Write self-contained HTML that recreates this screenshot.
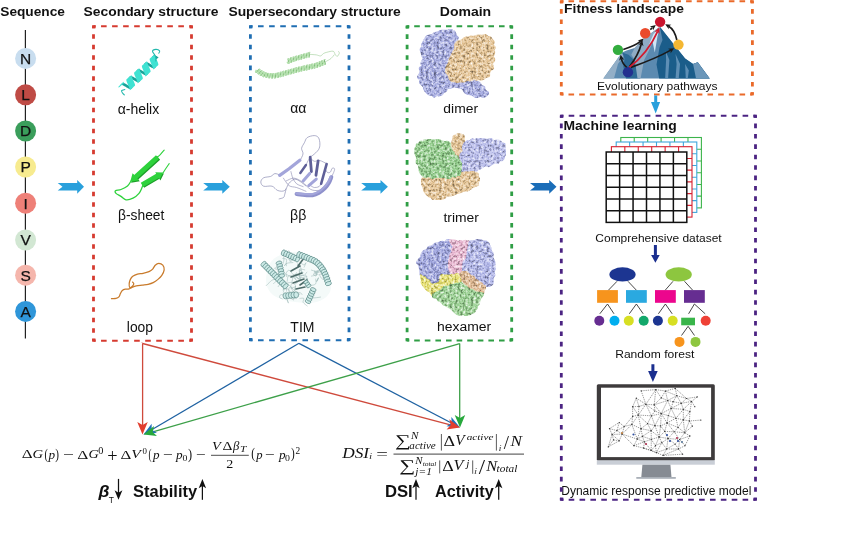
<!DOCTYPE html>
<html><head><meta charset="utf-8"><title>Protein structure to machine learning</title>
<style>html,body{margin:0;padding:0;background:#fff;}svg{display:block;}</style></head>
<body><svg width="865" height="533" viewBox="0 0 865 533">
<rect width="865" height="533" fill="#fff"/>
<text x="0.27" y="15.90" font-family="'Liberation Sans', Arial, sans-serif" font-size="13.70" font-style="normal" font-weight="bold" fill="#111">Sequence</text>
<text x="83.52" y="15.90" font-family="'Liberation Sans', Arial, sans-serif" font-size="13.70" font-style="normal" font-weight="bold" fill="#111" textLength="134.87" lengthAdjust="spacingAndGlyphs">Secondary structure</text>
<text x="228.42" y="15.90" font-family="'Liberation Sans', Arial, sans-serif" font-size="13.70" font-style="normal" font-weight="bold" fill="#111" textLength="172.42" lengthAdjust="spacingAndGlyphs">Supersecondary structure</text>
<text x="439.81" y="15.80" font-family="'Liberation Sans', Arial, sans-serif" font-size="13.70" font-style="normal" font-weight="bold" fill="#111" textLength="51.38" lengthAdjust="spacingAndGlyphs">Domain</text>
<text x="564.11" y="12.90" font-family="'Liberation Sans', Arial, sans-serif" font-size="13.60" font-style="normal" font-weight="bold" fill="#111" textLength="119.73" lengthAdjust="spacingAndGlyphs">Fitness landscape</text>
<text x="563.49" y="129.70" font-family="'Liberation Sans', Arial, sans-serif" font-size="13.40" font-style="normal" font-weight="bold" fill="#111" textLength="113.28" lengthAdjust="spacingAndGlyphs">Machine learning</text>
<text x="596.96" y="90.20" font-family="'Liberation Sans', Arial, sans-serif" font-size="11.60" font-style="normal" font-weight="normal" fill="#111" textLength="120.49" lengthAdjust="spacingAndGlyphs">Evolutionary pathways</text>
<text x="595.36" y="241.50" font-family="'Liberation Sans', Arial, sans-serif" font-size="11.60" font-style="normal" font-weight="normal" fill="#111" textLength="126.28" lengthAdjust="spacingAndGlyphs">Comprehensive dataset</text>
<text x="615.16" y="358.20" font-family="'Liberation Sans', Arial, sans-serif" font-size="11.60" font-style="normal" font-weight="normal" fill="#111" textLength="79.22" lengthAdjust="spacingAndGlyphs">Random forest</text>
<text x="561.29" y="495.00" font-family="'Liberation Sans', Arial, sans-serif" font-size="12.00" font-style="normal" font-weight="normal" fill="#111">Dynamic response predictive model</text>
<text x="117.65" y="113.62" font-family="'Liberation Sans', Arial, sans-serif" font-size="13.74" font-style="normal" font-weight="normal" fill="#111" textLength="41.55" lengthAdjust="spacingAndGlyphs">&#945;-helix</text>
<text x="118.01" y="219.98" font-family="'Liberation Sans', Arial, sans-serif" font-size="13.82" font-style="normal" font-weight="normal" fill="#111">&#946;-sheet</text>
<text x="126.80" y="331.91" font-family="'Liberation Sans', Arial, sans-serif" font-size="13.72" font-style="normal" font-weight="normal" fill="#111" textLength="26.27" lengthAdjust="spacingAndGlyphs">loop</text>
<text x="290.15" y="112.86" font-family="'Liberation Sans', Arial, sans-serif" font-size="14.64" font-style="normal" font-weight="normal" fill="#111" textLength="16.22" lengthAdjust="spacingAndGlyphs">&#945;&#945;</text>
<text x="290.08" y="219.91" font-family="'Liberation Sans', Arial, sans-serif" font-size="13.72" font-style="normal" font-weight="normal" fill="#111" textLength="16.27" lengthAdjust="spacingAndGlyphs">&#946;&#946;</text>
<text x="290.34" y="331.80" font-family="'Liberation Sans', Arial, sans-serif" font-size="14.01" font-style="normal" font-weight="normal" fill="#111">TIM</text>
<text x="443.36" y="112.58" font-family="'Liberation Sans', Arial, sans-serif" font-size="13.12" font-style="normal" font-weight="normal" fill="#111" textLength="34.71" lengthAdjust="spacingAndGlyphs">dimer</text>
<text x="443.44" y="221.67" font-family="'Liberation Sans', Arial, sans-serif" font-size="13.53" font-style="normal" font-weight="normal" fill="#111" textLength="35.41" lengthAdjust="spacingAndGlyphs">trimer</text>
<text x="437.00" y="331.48" font-family="'Liberation Sans', Arial, sans-serif" font-size="12.85" font-style="normal" font-weight="normal" fill="#111" textLength="54.18" lengthAdjust="spacingAndGlyphs">hexamer</text>
<line x1="93.5" y1="26.2" x2="191.5" y2="26.2" stroke="#d63b30" stroke-width="2.0" stroke-dasharray="2.1 5.44 5.6 5.44 5.6 5.44 5.6 5.44 5.6 5.44 5.6 5.44 5.6 5.44 5.6 5.44 5.6 5.44 2.1 0"/>
<line x1="93.5" y1="340.7" x2="191.5" y2="340.7" stroke="#d63b30" stroke-width="2.0" stroke-dasharray="2.1 5.44 5.6 5.44 5.6 5.44 5.6 5.44 5.6 5.44 5.6 5.44 5.6 5.44 5.6 5.44 5.6 5.44 2.1 0"/>
<line x1="93.5" y1="26.2" x2="93.5" y2="340.7" stroke="#d63b30" stroke-width="2.8" stroke-dasharray="2.1 5.9 4.6 5.9 4.6 5.9 4.6 5.9 4.6 5.9 4.6 5.9 4.6 5.9 4.6 5.9 4.6 5.9 4.6 5.9 4.6 5.9 4.6 5.9 4.6 5.9 4.6 5.9 4.6 5.9 4.6 5.9 4.6 5.9 4.6 5.9 4.6 5.9 4.6 5.9 4.6 5.9 4.6 5.9 4.6 5.9 4.6 5.9 4.6 5.9 4.6 5.9 4.6 5.9 4.6 5.9 4.6 5.9 4.6 5.9 2.1 0"/>
<line x1="191.5" y1="26.2" x2="191.5" y2="340.7" stroke="#d63b30" stroke-width="2.8" stroke-dasharray="2.1 5.9 4.6 5.9 4.6 5.9 4.6 5.9 4.6 5.9 4.6 5.9 4.6 5.9 4.6 5.9 4.6 5.9 4.6 5.9 4.6 5.9 4.6 5.9 4.6 5.9 4.6 5.9 4.6 5.9 4.6 5.9 4.6 5.9 4.6 5.9 4.6 5.9 4.6 5.9 4.6 5.9 4.6 5.9 4.6 5.9 4.6 5.9 4.6 5.9 4.6 5.9 4.6 5.9 4.6 5.9 4.6 5.9 4.6 5.9 2.1 0"/>
<rect x="92.1" y="25.2" width="3.5" height="3.1" fill="#d63b30"/>
<rect x="189.4" y="25.2" width="3.5" height="3.1" fill="#d63b30"/>
<rect x="92.1" y="338.6" width="3.5" height="3.1" fill="#d63b30"/>
<rect x="189.4" y="338.6" width="3.5" height="3.1" fill="#d63b30"/>
<line x1="250.4" y1="26.2" x2="349" y2="26.2" stroke="#1f6eb3" stroke-width="2.0" stroke-dasharray="2.1 5.51 5.6 5.51 5.6 5.51 5.6 5.51 5.6 5.51 5.6 5.51 5.6 5.51 5.6 5.51 5.6 5.51 2.1 0"/>
<line x1="250.4" y1="340.2" x2="349" y2="340.2" stroke="#1f6eb3" stroke-width="2.0" stroke-dasharray="2.1 5.51 5.6 5.51 5.6 5.51 5.6 5.51 5.6 5.51 5.6 5.51 5.6 5.51 5.6 5.51 5.6 5.51 2.1 0"/>
<line x1="250.4" y1="26.2" x2="250.4" y2="340.2" stroke="#1f6eb3" stroke-width="2.8" stroke-dasharray="2.1 5.88 4.6 5.88 4.6 5.88 4.6 5.88 4.6 5.88 4.6 5.88 4.6 5.88 4.6 5.88 4.6 5.88 4.6 5.88 4.6 5.88 4.6 5.88 4.6 5.88 4.6 5.88 4.6 5.88 4.6 5.88 4.6 5.88 4.6 5.88 4.6 5.88 4.6 5.88 4.6 5.88 4.6 5.88 4.6 5.88 4.6 5.88 4.6 5.88 4.6 5.88 4.6 5.88 4.6 5.88 4.6 5.88 4.6 5.88 2.1 0"/>
<line x1="349" y1="26.2" x2="349" y2="340.2" stroke="#1f6eb3" stroke-width="2.8" stroke-dasharray="2.1 5.88 4.6 5.88 4.6 5.88 4.6 5.88 4.6 5.88 4.6 5.88 4.6 5.88 4.6 5.88 4.6 5.88 4.6 5.88 4.6 5.88 4.6 5.88 4.6 5.88 4.6 5.88 4.6 5.88 4.6 5.88 4.6 5.88 4.6 5.88 4.6 5.88 4.6 5.88 4.6 5.88 4.6 5.88 4.6 5.88 4.6 5.88 4.6 5.88 4.6 5.88 4.6 5.88 4.6 5.88 4.6 5.88 4.6 5.88 2.1 0"/>
<rect x="249" y="25.2" width="3.5" height="3.1" fill="#1f6eb3"/>
<rect x="346.9" y="25.2" width="3.5" height="3.1" fill="#1f6eb3"/>
<rect x="249" y="338.1" width="3.5" height="3.1" fill="#1f6eb3"/>
<rect x="346.9" y="338.1" width="3.5" height="3.1" fill="#1f6eb3"/>
<line x1="407.1" y1="26.3" x2="511.7" y2="26.3" stroke="#2f9e45" stroke-width="2.0" stroke-dasharray="2.1 5 5.6 5 5.6 5 5.6 5 5.6 5 5.6 5 5.6 5 5.6 5 5.6 5 5.6 5 2.1 0"/>
<line x1="407.1" y1="340.4" x2="511.7" y2="340.4" stroke="#2f9e45" stroke-width="2.0" stroke-dasharray="2.1 5 5.6 5 5.6 5 5.6 5 5.6 5 5.6 5 5.6 5 5.6 5 5.6 5 5.6 5 2.1 0"/>
<line x1="407.1" y1="26.3" x2="407.1" y2="340.4" stroke="#2f9e45" stroke-width="2.8" stroke-dasharray="2.1 5.88 4.6 5.88 4.6 5.88 4.6 5.88 4.6 5.88 4.6 5.88 4.6 5.88 4.6 5.88 4.6 5.88 4.6 5.88 4.6 5.88 4.6 5.88 4.6 5.88 4.6 5.88 4.6 5.88 4.6 5.88 4.6 5.88 4.6 5.88 4.6 5.88 4.6 5.88 4.6 5.88 4.6 5.88 4.6 5.88 4.6 5.88 4.6 5.88 4.6 5.88 4.6 5.88 4.6 5.88 4.6 5.88 4.6 5.88 2.1 0"/>
<line x1="511.7" y1="26.3" x2="511.7" y2="340.4" stroke="#2f9e45" stroke-width="2.8" stroke-dasharray="2.1 5.88 4.6 5.88 4.6 5.88 4.6 5.88 4.6 5.88 4.6 5.88 4.6 5.88 4.6 5.88 4.6 5.88 4.6 5.88 4.6 5.88 4.6 5.88 4.6 5.88 4.6 5.88 4.6 5.88 4.6 5.88 4.6 5.88 4.6 5.88 4.6 5.88 4.6 5.88 4.6 5.88 4.6 5.88 4.6 5.88 4.6 5.88 4.6 5.88 4.6 5.88 4.6 5.88 4.6 5.88 4.6 5.88 4.6 5.88 2.1 0"/>
<rect x="405.7" y="25.3" width="3.5" height="3.1" fill="#2f9e45"/>
<rect x="509.6" y="25.3" width="3.5" height="3.1" fill="#2f9e45"/>
<rect x="405.7" y="338.3" width="3.5" height="3.1" fill="#2f9e45"/>
<rect x="509.6" y="338.3" width="3.5" height="3.1" fill="#2f9e45"/>
<line x1="561.3" y1="1.2" x2="752.4" y2="1.2" stroke="#ea6a2a" stroke-width="2.0" stroke-dasharray="2.1 5.09 5.6 5.09 5.6 5.09 5.6 5.09 5.6 5.09 5.6 5.09 5.6 5.09 5.6 5.09 5.6 5.09 5.6 5.09 5.6 5.09 5.6 5.09 5.6 5.09 5.6 5.09 5.6 5.09 5.6 5.09 5.6 5.09 5.6 5.09 2.1 0"/>
<line x1="561.3" y1="94.4" x2="752.4" y2="94.4" stroke="#ea6a2a" stroke-width="2.0" stroke-dasharray="2.1 5.09 5.6 5.09 5.6 5.09 5.6 5.09 5.6 5.09 5.6 5.09 5.6 5.09 5.6 5.09 5.6 5.09 5.6 5.09 5.6 5.09 5.6 5.09 5.6 5.09 5.6 5.09 5.6 5.09 5.6 5.09 5.6 5.09 5.6 5.09 2.1 0"/>
<line x1="561.3" y1="1.2" x2="561.3" y2="94.4" stroke="#ea6a2a" stroke-width="2.8" stroke-dasharray="2.1 5.8 4.6 5.8 4.6 5.8 4.6 5.8 4.6 5.8 4.6 5.8 4.6 5.8 4.6 5.8 4.6 5.8 2.1 0"/>
<line x1="752.4" y1="1.2" x2="752.4" y2="94.4" stroke="#ea6a2a" stroke-width="2.8" stroke-dasharray="2.1 5.8 4.6 5.8 4.6 5.8 4.6 5.8 4.6 5.8 4.6 5.8 4.6 5.8 4.6 5.8 4.6 5.8 2.1 0"/>
<rect x="559.9" y="0.2" width="3.5" height="3.1" fill="#ea6a2a"/>
<rect x="750.3" y="0.2" width="3.5" height="3.1" fill="#ea6a2a"/>
<rect x="559.9" y="92.3" width="3.5" height="3.1" fill="#ea6a2a"/>
<rect x="750.3" y="92.3" width="3.5" height="3.1" fill="#ea6a2a"/>
<line x1="561.3" y1="115.7" x2="755.5" y2="115.7" stroke="#4b2382" stroke-width="2.0" stroke-dasharray="2.1 5.27 5.6 5.27 5.6 5.27 5.6 5.27 5.6 5.27 5.6 5.27 5.6 5.27 5.6 5.27 5.6 5.27 5.6 5.27 5.6 5.27 5.6 5.27 5.6 5.27 5.6 5.27 5.6 5.27 5.6 5.27 5.6 5.27 5.6 5.27 2.1 0"/>
<line x1="561.3" y1="499.8" x2="755.5" y2="499.8" stroke="#4b2382" stroke-width="2.0" stroke-dasharray="2.1 5.27 5.6 5.27 5.6 5.27 5.6 5.27 5.6 5.27 5.6 5.27 5.6 5.27 5.6 5.27 5.6 5.27 5.6 5.27 5.6 5.27 5.6 5.27 5.6 5.27 5.6 5.27 5.6 5.27 5.6 5.27 5.6 5.27 5.6 5.27 2.1 0"/>
<line x1="561.3" y1="115.7" x2="561.3" y2="499.8" stroke="#4b2382" stroke-width="2.8" stroke-dasharray="2.1 5.79 4.6 5.79 4.6 5.79 4.6 5.79 4.6 5.79 4.6 5.79 4.6 5.79 4.6 5.79 4.6 5.79 4.6 5.79 4.6 5.79 4.6 5.79 4.6 5.79 4.6 5.79 4.6 5.79 4.6 5.79 4.6 5.79 4.6 5.79 4.6 5.79 4.6 5.79 4.6 5.79 4.6 5.79 4.6 5.79 4.6 5.79 4.6 5.79 4.6 5.79 4.6 5.79 4.6 5.79 4.6 5.79 4.6 5.79 4.6 5.79 4.6 5.79 4.6 5.79 4.6 5.79 4.6 5.79 4.6 5.79 4.6 5.79 2.1 0"/>
<line x1="755.5" y1="115.7" x2="755.5" y2="499.8" stroke="#4b2382" stroke-width="2.8" stroke-dasharray="2.1 5.79 4.6 5.79 4.6 5.79 4.6 5.79 4.6 5.79 4.6 5.79 4.6 5.79 4.6 5.79 4.6 5.79 4.6 5.79 4.6 5.79 4.6 5.79 4.6 5.79 4.6 5.79 4.6 5.79 4.6 5.79 4.6 5.79 4.6 5.79 4.6 5.79 4.6 5.79 4.6 5.79 4.6 5.79 4.6 5.79 4.6 5.79 4.6 5.79 4.6 5.79 4.6 5.79 4.6 5.79 4.6 5.79 4.6 5.79 4.6 5.79 4.6 5.79 4.6 5.79 4.6 5.79 4.6 5.79 4.6 5.79 4.6 5.79 2.1 0"/>
<rect x="559.9" y="114.7" width="3.5" height="3.1" fill="#4b2382"/>
<rect x="753.4" y="114.7" width="3.5" height="3.1" fill="#4b2382"/>
<rect x="559.9" y="497.7" width="3.5" height="3.1" fill="#4b2382"/>
<rect x="753.4" y="497.7" width="3.5" height="3.1" fill="#4b2382"/>
<line x1="25.4" y1="30" x2="25.4" y2="338.4" stroke="#222" stroke-width="1.2"/>
<circle cx="25.6" cy="58.4" r="10.5" fill="#c8ddef"/>
<text x="25.6" y="63.8" font-family="'Liberation Sans', Arial, sans-serif" font-size="15.5" font-weight="normal" font-style="normal" text-anchor="middle" fill="#111" stroke="#111" stroke-width="0.25">N</text>
<circle cx="25.6" cy="94.8" r="10.5" fill="#bf4b45"/>
<text x="25.6" y="100.2" font-family="'Liberation Sans', Arial, sans-serif" font-size="15.5" font-weight="normal" font-style="normal" text-anchor="middle" fill="#111" stroke="#111" stroke-width="0.25">L</text>
<circle cx="25.6" cy="131" r="10.5" fill="#3a9e5b"/>
<text x="25.6" y="136.4" font-family="'Liberation Sans', Arial, sans-serif" font-size="15.5" font-weight="normal" font-style="normal" text-anchor="middle" fill="#111" stroke="#111" stroke-width="0.25">D</text>
<circle cx="25.6" cy="167" r="10.5" fill="#f7eb8f"/>
<text x="25.6" y="172.4" font-family="'Liberation Sans', Arial, sans-serif" font-size="15.5" font-weight="normal" font-style="normal" text-anchor="middle" fill="#111" stroke="#111" stroke-width="0.25">P</text>
<circle cx="25.6" cy="203.2" r="10.5" fill="#ee8078"/>
<text x="25.6" y="208.6" font-family="'Liberation Sans', Arial, sans-serif" font-size="15.5" font-weight="normal" font-style="normal" text-anchor="middle" fill="#111" stroke="#111" stroke-width="0.25">I</text>
<circle cx="25.6" cy="240" r="10.5" fill="#d2e7d3"/>
<text x="25.6" y="245.4" font-family="'Liberation Sans', Arial, sans-serif" font-size="15.5" font-weight="normal" font-style="normal" text-anchor="middle" fill="#111" stroke="#111" stroke-width="0.25">V</text>
<circle cx="25.6" cy="275.2" r="10.5" fill="#f5b6ac"/>
<text x="25.6" y="280.6" font-family="'Liberation Sans', Arial, sans-serif" font-size="15.5" font-weight="normal" font-style="normal" text-anchor="middle" fill="#111" stroke="#111" stroke-width="0.25">S</text>
<circle cx="25.6" cy="311.4" r="10.5" fill="#2f96d9"/>
<text x="25.6" y="316.8" font-family="'Liberation Sans', Arial, sans-serif" font-size="15.5" font-weight="normal" font-style="normal" text-anchor="middle" fill="#111" stroke="#111" stroke-width="0.25">A</text>
<polygon points="57.7,183.1 77.2,183.1 77.2,179.9 84,186.8 77.2,193.8 77.2,190.5 57.7,190.5 62.5,186.8" fill="#29a0dc"/>
<polygon points="203.2,183.1 222.3,183.1 222.3,179.9 229.8,186.8 222.3,193.8 222.3,190.5 203.2,190.5 208,186.8" fill="#29a0dc"/>
<polygon points="361.2,183.1 380.5,183.1 380.5,179.9 387.9,186.8 380.5,193.8 380.5,190.5 361.2,190.5 366,186.8" fill="#29a0dc"/>
<polygon points="530,183.1 549.2,183.1 549.2,179.9 556.5,186.8 549.2,193.8 549.2,190.5 530,190.5 534.8,186.8" fill="#1a6db8"/>
<polyline points="142,342.5 142.6,343.5" stroke="#cf4a3c" fill="none"/>
<line x1="142.6" y1="343.5" x2="452.27" y2="425.45" stroke="#cf4a3c" stroke-width="1.3"/>
<line x1="299" y1="343.3" x2="452.91" y2="423.79" stroke="#1f62a2" stroke-width="1.3"/>
<line x1="459.7" y1="343.6" x2="151.19" y2="432.29" stroke="#3da049" stroke-width="1.3"/>
<line x1="299" y1="343.3" x2="150.4" y2="430.45" stroke="#1f62a2" stroke-width="1.3"/>
<line x1="142.6" y1="343.5" x2="142.6" y2="426.5" stroke="#cf4a3c" stroke-width="1.3"/>
<line x1="459.7" y1="343.6" x2="459.7" y2="419.5" stroke="#3da049" stroke-width="1.3"/>
<polygon points="460,427.5 446.49,426.36 451.58,423.1 451.36,417.05" fill="#2271bb"/>
<polygon points="460,427.5 446.57,429.38 450.82,425.07 449.26,419.23" fill="#e23d2e"/>
<polygon points="460,427.5 454.71,415.02 459.97,418 465.21,414.98" fill="#27a83c"/>
<polygon points="142.5,434.5 137.26,421.99 142.51,425 147.76,422.01" fill="#e23d2e"/>
<polygon points="143.5,434.5 151.63,423.65 151.69,429.69 156.94,432.7" fill="#2271bb"/>
<polygon points="143.5,434.5 154.06,426 152.63,431.88 156.96,436.09" fill="#27a83c"/>
<text x="21.67" y="458.30" font-family="'Liberation Serif', serif" font-size="13.08" font-style="normal" font-weight="normal" fill="#111" textLength="10.87" lengthAdjust="spacingAndGlyphs">&#916;</text>
<text x="32.49" y="458.18" font-family="'Liberation Serif', serif" font-size="12.72" font-style="italic" font-weight="normal" fill="#111" textLength="10.59" lengthAdjust="spacingAndGlyphs">G</text>
<text x="44.42" y="458.76" font-family="'Liberation Serif', serif" font-size="13.95" font-style="normal" font-weight="normal" fill="#111" textLength="3.46" lengthAdjust="spacingAndGlyphs">(</text>
<text x="48.44" y="458.63" font-family="'Liberation Serif', serif" font-size="12.55" font-style="italic" font-weight="normal" fill="#111" textLength="6.63" lengthAdjust="spacingAndGlyphs">p</text>
<text x="55.19" y="458.76" font-family="'Liberation Serif', serif" font-size="13.95" font-style="normal" font-weight="normal" fill="#111" textLength="3.73" lengthAdjust="spacingAndGlyphs">)</text>
<text x="62.92" y="459.04" font-family="'Liberation Serif', serif" font-size="13.50" font-style="normal" font-weight="normal" fill="#111" textLength="10.97" lengthAdjust="spacingAndGlyphs">&#8722;</text>
<text x="77.36" y="458.60" font-family="'Liberation Serif', serif" font-size="13.39" font-style="normal" font-weight="normal" fill="#111" textLength="11.10" lengthAdjust="spacingAndGlyphs">&#916;</text>
<text x="88.41" y="458.48" font-family="'Liberation Serif', serif" font-size="13.02" font-style="italic" font-weight="normal" fill="#111" textLength="10.25" lengthAdjust="spacingAndGlyphs">G</text>
<text x="98.37" y="453.50" font-family="'Liberation Serif', serif" font-size="9.65" font-style="normal" font-weight="normal" fill="#111" textLength="5.16" lengthAdjust="spacingAndGlyphs">0</text>
<text x="107.35" y="461.64" font-family="'Liberation Serif', serif" font-size="19.01" font-style="normal" font-weight="normal" fill="#111" textLength="10.33" lengthAdjust="spacingAndGlyphs">+</text>
<text x="120.58" y="458.60" font-family="'Liberation Serif', serif" font-size="13.39" font-style="normal" font-weight="normal" fill="#111" textLength="10.82" lengthAdjust="spacingAndGlyphs">&#916;</text>
<text x="131.33" y="458.36" font-family="'Liberation Serif', serif" font-size="13.20" font-style="italic" font-weight="normal" fill="#111" textLength="9.52" lengthAdjust="spacingAndGlyphs">V</text>
<text x="142.53" y="453.50" font-family="'Liberation Serif', serif" font-size="7.51" font-style="normal" font-weight="normal" fill="#111" textLength="4.44" lengthAdjust="spacingAndGlyphs">0</text>
<text x="148.47" y="458.76" font-family="'Liberation Serif', serif" font-size="13.95" font-style="normal" font-weight="normal" fill="#111" textLength="3.06" lengthAdjust="spacingAndGlyphs">(</text>
<text x="153.03" y="458.78" font-family="'Liberation Serif', serif" font-size="11.82" font-style="italic" font-weight="normal" fill="#111" textLength="6.58" lengthAdjust="spacingAndGlyphs">p</text>
<text x="162.93" y="459.04" font-family="'Liberation Serif', serif" font-size="13.50" font-style="normal" font-weight="normal" fill="#111" textLength="9.87" lengthAdjust="spacingAndGlyphs">&#8722;</text>
<text x="176.14" y="458.78" font-family="'Liberation Serif', serif" font-size="11.82" font-style="italic" font-weight="normal" fill="#111" textLength="6.63" lengthAdjust="spacingAndGlyphs">p</text>
<text x="182.49" y="460.80" font-family="'Liberation Serif', serif" font-size="8.43" font-style="normal" font-weight="normal" fill="#111" textLength="4.92" lengthAdjust="spacingAndGlyphs">0</text>
<text x="188.06" y="458.76" font-family="'Liberation Serif', serif" font-size="13.95" font-style="normal" font-weight="normal" fill="#111" textLength="4.11" lengthAdjust="spacingAndGlyphs">)</text>
<text x="196.14" y="459.44" font-family="'Liberation Serif', serif" font-size="13.50" font-style="normal" font-weight="normal" fill="#111" textLength="9.75" lengthAdjust="spacingAndGlyphs">&#8722;</text>
<text x="211.90" y="449.56" font-family="'Liberation Serif', serif" font-size="13.05" font-style="italic" font-weight="normal" fill="#111" textLength="8.81" lengthAdjust="spacingAndGlyphs">V</text>
<text x="222.53" y="449.80" font-family="'Liberation Serif', serif" font-size="13.23" font-style="normal" font-weight="normal" fill="#111" textLength="9.91" lengthAdjust="spacingAndGlyphs">&#916;</text>
<text x="233.04" y="449.86" font-family="'Liberation Serif', serif" font-size="12.87" font-style="italic" font-weight="normal" fill="#111" textLength="6.34" lengthAdjust="spacingAndGlyphs">&#946;</text>
<text x="240.01" y="451.50" font-family="'Liberation Serif', serif" font-size="9.04" font-style="italic" font-weight="normal" fill="#111" textLength="6.37" lengthAdjust="spacingAndGlyphs">T</text>
<text x="226.25" y="467.80" font-family="'Liberation Serif', serif" font-size="12.63" font-style="normal" font-weight="normal" fill="#111" textLength="7.03" lengthAdjust="spacingAndGlyphs">2</text>
<text x="251.26" y="458.46" font-family="'Liberation Serif', serif" font-size="13.95" font-style="normal" font-weight="normal" fill="#111" textLength="3.86" lengthAdjust="spacingAndGlyphs">(</text>
<text x="256.31" y="458.72" font-family="'Liberation Serif', serif" font-size="12.11" font-style="italic" font-weight="normal" fill="#111" textLength="6.35" lengthAdjust="spacingAndGlyphs">p</text>
<text x="265.14" y="459.44" font-family="'Liberation Serif', serif" font-size="13.50" font-style="normal" font-weight="normal" fill="#111" textLength="9.75" lengthAdjust="spacingAndGlyphs">&#8722;</text>
<text x="278.94" y="458.72" font-family="'Liberation Serif', serif" font-size="12.11" font-style="italic" font-weight="normal" fill="#111" textLength="6.63" lengthAdjust="spacingAndGlyphs">p</text>
<text x="285.09" y="461.00" font-family="'Liberation Serif', serif" font-size="7.35" font-style="normal" font-weight="normal" fill="#111" textLength="4.92" lengthAdjust="spacingAndGlyphs">0</text>
<text x="290.89" y="458.46" font-family="'Liberation Serif', serif" font-size="13.95" font-style="normal" font-weight="normal" fill="#111" textLength="3.73" lengthAdjust="spacingAndGlyphs">)</text>
<text x="295.61" y="453.70" font-family="'Liberation Serif', serif" font-size="9.34" font-style="normal" font-weight="normal" fill="#111">2</text>
<text x="342.26" y="457.66" font-family="'Liberation Serif', serif" font-size="14.65" font-style="italic" font-weight="normal" fill="#111" textLength="26.89" lengthAdjust="spacingAndGlyphs">DSI</text>
<text x="369.07" y="459.40" font-family="'Liberation Serif', serif" font-size="9.19" font-style="italic" font-weight="normal" fill="#333" textLength="3.15" lengthAdjust="spacingAndGlyphs">i</text>
<text x="376.29" y="458.77" font-family="'Liberation Serif', serif" font-size="14.00" font-style="normal" font-weight="normal" fill="#111" textLength="11.66" lengthAdjust="spacingAndGlyphs">=</text>
<text x="394.67" y="445.82" font-family="'Liberation Serif', serif" font-size="16.49" font-style="normal" font-weight="normal" fill="#111" textLength="15.73" lengthAdjust="spacingAndGlyphs">&#8721;</text>
<text x="411.00" y="438.50" font-family="'Liberation Serif', serif" font-size="9.80" font-style="italic" font-weight="normal" fill="#111" textLength="7.44" lengthAdjust="spacingAndGlyphs">N</text>
<text x="409.39" y="449.47" font-family="'Liberation Serif', serif" font-size="9.45" font-style="italic" font-weight="normal" fill="#111" textLength="26.40" lengthAdjust="spacingAndGlyphs">active</text>
<text x="443.43" y="445.50" font-family="'Liberation Serif', serif" font-size="14.45" font-style="normal" font-weight="normal" fill="#111" textLength="11.61" lengthAdjust="spacingAndGlyphs">&#916;</text>
<text x="455.35" y="445.24" font-family="'Liberation Serif', serif" font-size="14.25" font-style="italic" font-weight="normal" fill="#111" textLength="9.33" lengthAdjust="spacingAndGlyphs">V</text>
<text x="466.69" y="440.27" font-family="'Liberation Serif', serif" font-size="9.00" font-style="italic" font-weight="normal" fill="#111" textLength="26.70" lengthAdjust="spacingAndGlyphs">active</text>
<text x="498.60" y="450.60" font-family="'Liberation Serif', serif" font-size="8.84" font-style="italic" font-weight="normal" fill="#444" textLength="3.11" lengthAdjust="spacingAndGlyphs">i</text>
<text x="503.80" y="448.62" font-family="'Liberation Serif', serif" font-size="19.35" font-style="normal" font-weight="normal" fill="#111" textLength="5.20" lengthAdjust="spacingAndGlyphs">/</text>
<text x="510.46" y="445.90" font-family="'Liberation Serif', serif" font-size="14.91" font-style="italic" font-weight="normal" fill="#111" textLength="11.45" lengthAdjust="spacingAndGlyphs">N</text>
<text x="399.05" y="470.69" font-family="'Liberation Serif', serif" font-size="16.14" font-style="normal" font-weight="normal" fill="#111" textLength="15.97" lengthAdjust="spacingAndGlyphs">&#8721;</text>
<text x="415.30" y="463.60" font-family="'Liberation Serif', serif" font-size="9.80" font-style="italic" font-weight="normal" fill="#111" textLength="7.25" lengthAdjust="spacingAndGlyphs">N</text>
<text x="422.69" y="465.50" font-family="'Liberation Serif', serif" font-size="6.35" font-style="italic" font-weight="normal" fill="#111" textLength="13.77" lengthAdjust="spacingAndGlyphs">total</text>
<text x="415.36" y="474.92" font-family="'Liberation Serif', serif" font-size="9.99" font-style="italic" font-weight="normal" fill="#111" textLength="16.44" lengthAdjust="spacingAndGlyphs">j=1</text>
<text x="442.24" y="470.60" font-family="'Liberation Serif', serif" font-size="14.60" font-style="normal" font-weight="normal" fill="#111" textLength="11.50" lengthAdjust="spacingAndGlyphs">&#916;</text>
<text x="453.40" y="470.33" font-family="'Liberation Serif', serif" font-size="14.40" font-style="italic" font-weight="normal" fill="#111" textLength="9.90" lengthAdjust="spacingAndGlyphs">V</text>
<text x="466.36" y="466.62" font-family="'Liberation Serif', serif" font-size="9.99" font-style="italic" font-weight="normal" fill="#111" textLength="3.16" lengthAdjust="spacingAndGlyphs">j</text>
<text x="474.10" y="474.40" font-family="'Liberation Serif', serif" font-size="8.99" font-style="italic" font-weight="normal" fill="#444" textLength="3.11" lengthAdjust="spacingAndGlyphs">i</text>
<text x="478.80" y="473.61" font-family="'Liberation Serif', serif" font-size="20.55" font-style="normal" font-weight="normal" fill="#111" textLength="6.30" lengthAdjust="spacingAndGlyphs">/</text>
<text x="486.25" y="470.60" font-family="'Liberation Serif', serif" font-size="14.45" font-style="italic" font-weight="normal" fill="#111" textLength="10.90" lengthAdjust="spacingAndGlyphs">N</text>
<text x="496.63" y="472.30" font-family="'Liberation Serif', serif" font-size="9.50" font-style="italic" font-weight="normal" fill="#111" textLength="20.69" lengthAdjust="spacingAndGlyphs">total</text>
<text x="98.50" y="496.73" font-family="'Liberation Sans', Arial, sans-serif" font-size="15.99" font-style="italic" font-weight="bold" fill="#111" textLength="10.96" lengthAdjust="spacingAndGlyphs">&#946;</text>
<text x="108.86" y="502.60" font-family="'Liberation Sans', Arial, sans-serif" font-size="9.36" font-style="normal" font-weight="normal" fill="#111" textLength="5.17" lengthAdjust="spacingAndGlyphs">T</text>
<text x="133.09" y="496.80" font-family="'Liberation Sans', Arial, sans-serif" font-size="16.30" font-style="normal" font-weight="bold" fill="#111" textLength="64.05" lengthAdjust="spacingAndGlyphs">Stability</text>
<text x="384.91" y="496.62" font-family="'Liberation Sans', Arial, sans-serif" font-size="15.83" font-style="normal" font-weight="bold" fill="#111" textLength="27.78" lengthAdjust="spacingAndGlyphs">DSI</text>
<text x="435.09" y="496.80" font-family="'Liberation Sans', Arial, sans-serif" font-size="16.00" font-style="normal" font-weight="bold" fill="#111" textLength="58.58" lengthAdjust="spacingAndGlyphs">Activity</text>
<line x1="211" y1="455.3" x2="248.8" y2="455.3" stroke="#111" stroke-width="0.75"/>
<line x1="393.5" y1="454.1" x2="524" y2="454.1" stroke="#111" stroke-width="0.8"/>
<line x1="441.4" y1="434.0" x2="441.4" y2="450.6" stroke="#333" stroke-width="0.8"/>
<line x1="496.4" y1="434.0" x2="496.4" y2="450.6" stroke="#333" stroke-width="0.8"/>
<line x1="439.7" y1="460.4" x2="439.7" y2="473.4" stroke="#333" stroke-width="0.8"/>
<line x1="472.7" y1="460.4" x2="472.7" y2="473.8" stroke="#333" stroke-width="0.8"/>
<line x1="118.5" y1="478.9" x2="118.5" y2="495.8" stroke="#111" stroke-width="1.25"/>
<polygon points="118.5,499.8 122.4,490.3 118.5,492.8 114.6,490.3" fill="#111"/>
<line x1="202.4" y1="482.9" x2="202.4" y2="499.8" stroke="#111" stroke-width="1.25"/>
<polygon points="202.4,478.9 206.1,488.2 202.4,485.9 198.7,488.2" fill="#111"/>
<line x1="416" y1="482.9" x2="416" y2="499.8" stroke="#111" stroke-width="1.25"/>
<polygon points="416,478.9 419.7,488.2 416,485.9 412.3,488.2" fill="#111"/>
<line x1="498.7" y1="482.9" x2="498.7" y2="499.8" stroke="#111" stroke-width="1.25"/>
<polygon points="498.7,478.9 502.4,488.2 498.7,485.9 495,488.2" fill="#111"/>
<polygon points="603.32,78.51 621.94,52.58 626.6,50.59 634.57,47.93 643.88,38.62 659.84,26.65 669.15,38.62 674.47,45.27 685.11,58.56 693.09,63.88 697.74,62.29 709.71,78.51" fill="#5b8ab0"/>
<polygon points="603.32,78.51 621.94,52.58 624.6,54.84 617.95,63.88 613.96,78.51" fill="#93afc7"/>
<polygon points="621.94,52.58 628.59,54.84 633.91,59.89 639.89,78.51 625.93,78.51 623.27,66.54 624.6,58.56" fill="#2c6995"/>
<polygon points="634.57,47.93 643.88,38.62 659.84,26.65 654.79,37.29 649.47,49.52 644.15,59.89 640.56,78.51 637.5,78.51 634.84,59.89 631.25,54.84" fill="#8eabc4"/>
<polygon points="659.84,26.65 657.45,36.62 654.79,52.58 652.66,41.94 647.87,47.26 653.46,33.96" fill="#cfe6f5"/>
<polygon points="659.84,26.65 669.15,38.62 674.47,45.27 685.11,58.56 693.09,63.88 697.74,62.29 709.71,78.51 659.18,78.51 656.52,64.55 659.57,47.26 662.5,39.95" fill="#1b5d8a"/>
<polygon points="665.82,51.25 669.41,59.89 668.09,78.51 665.16,78.51 666.09,59.89" fill="#5e8fb5"/>
<polygon points="675.53,53.91 680.05,63.88 678.72,78.51 675.53,78.51 676.6,63.88" fill="#5e8fb5"/>
<polygon points="685.11,63.88 688.83,70.53 687.77,78.51 685.77,78.51" fill="#5e8fb5"/>
<polygon points="693.09,63.88 697.74,62.29 703.72,70.53 709.71,78.51 696.01,78.51" fill="#6b97ba"/>
<path d="M627.26,67.87 Q622.34,63.88 621.35,58.69" fill="none" stroke="#1a1a1a" stroke-width="1.7"/>
<polygon points="620.61,54.84 624.22,59.85 621.37,58.8 619.11,60.83" fill="#1a1a1a"/>
<path d="M623.27,49.52 Q635.9,45.53 640.7,41.23" fill="none" stroke="#1a1a1a" stroke-width="1.7"/>
<polygon points="643.62,38.62 641.18,44.29 640.61,41.31 637.71,40.42" fill="#1a1a1a"/>
<path d="M629.52,66.81 Q638.56,54.57 641.3,44.01" fill="none" stroke="#1a1a1a" stroke-width="1.7"/>
<polygon points="642.29,40.21 643.4,46.29 641.28,44.12 638.37,44.98" fill="#1a1a1a"/>
<path d="M650.27,29.57 Q652.93,27.31 652.75,27.45" fill="none" stroke="#1a1a1a" stroke-width="1.7"/>
<polygon points="655.85,25.05 653.01,30.53 652.66,27.52 649.83,26.42" fill="#1a1a1a"/>
<path d="M676.86,39.95 Q674.47,29.31 668.6,26.13" fill="none" stroke="#1a1a1a" stroke-width="1.7"/>
<polygon points="665.16,24.26 671.32,24.64 668.7,26.18 668.84,29.21" fill="#1a1a1a"/>
<path d="M630.85,67.34 Q655.85,58.56 670.79,50.12" fill="none" stroke="#1a1a1a" stroke-width="1.7"/>
<polygon points="674.2,48.19 670.61,53.21 670.69,50.18 668.05,48.68" fill="#1a1a1a"/>
<path d="M628.59,67.87 Q647.87,53.24 657.67,31.28" fill="none" stroke="#d31a2e" stroke-width="1.7"/>
<polygon points="659.44,27.31 659.47,34.12 657.62,31.39 654.36,31.84" fill="#d31a2e"/>
<circle cx="627.93" cy="72.13" r="5.2" fill="#23308f"/>
<circle cx="617.95" cy="49.92" r="5.2" fill="#33ad3f"/>
<circle cx="645.21" cy="33.3" r="5.2" fill="#ea4a2b"/>
<circle cx="660.11" cy="21.86" r="5.2" fill="#c9152e"/>
<circle cx="678.46" cy="44.6" r="5.2" fill="#f4b732"/>
<polygon points="654.2,95.5 657.2,95.5 657.2,102 660.1,102 655.7,113.4 651,102 654.2,102" fill="#29a0dc"/>
<rect x="620.8" y="137.5" width="80.6" height="70.4" fill="#fff" stroke="#3cb44b" stroke-width="1.1"/>
<line x1="634.23" y1="137.5" x2="634.23" y2="207.9" stroke="#3cb44b" stroke-width="1.1"/>
<line x1="647.67" y1="137.5" x2="647.67" y2="207.9" stroke="#3cb44b" stroke-width="1.1"/>
<line x1="661.1" y1="137.5" x2="661.1" y2="207.9" stroke="#3cb44b" stroke-width="1.1"/>
<line x1="674.53" y1="137.5" x2="674.53" y2="207.9" stroke="#3cb44b" stroke-width="1.1"/>
<line x1="687.97" y1="137.5" x2="687.97" y2="207.9" stroke="#3cb44b" stroke-width="1.1"/>
<line x1="620.8" y1="149.23" x2="701.4" y2="149.23" stroke="#3cb44b" stroke-width="1.1"/>
<line x1="620.8" y1="160.97" x2="701.4" y2="160.97" stroke="#3cb44b" stroke-width="1.1"/>
<line x1="620.8" y1="172.7" x2="701.4" y2="172.7" stroke="#3cb44b" stroke-width="1.1"/>
<line x1="620.8" y1="184.43" x2="701.4" y2="184.43" stroke="#3cb44b" stroke-width="1.1"/>
<line x1="620.8" y1="196.17" x2="701.4" y2="196.17" stroke="#3cb44b" stroke-width="1.1"/>
<rect x="616.2" y="142" width="80.6" height="70.4" fill="#fff" stroke="#3ea6dc" stroke-width="1.1"/>
<line x1="629.63" y1="142" x2="629.63" y2="212.4" stroke="#3ea6dc" stroke-width="1.1"/>
<line x1="643.07" y1="142" x2="643.07" y2="212.4" stroke="#3ea6dc" stroke-width="1.1"/>
<line x1="656.5" y1="142" x2="656.5" y2="212.4" stroke="#3ea6dc" stroke-width="1.1"/>
<line x1="669.93" y1="142" x2="669.93" y2="212.4" stroke="#3ea6dc" stroke-width="1.1"/>
<line x1="683.37" y1="142" x2="683.37" y2="212.4" stroke="#3ea6dc" stroke-width="1.1"/>
<line x1="616.2" y1="153.73" x2="696.8" y2="153.73" stroke="#3ea6dc" stroke-width="1.1"/>
<line x1="616.2" y1="165.47" x2="696.8" y2="165.47" stroke="#3ea6dc" stroke-width="1.1"/>
<line x1="616.2" y1="177.2" x2="696.8" y2="177.2" stroke="#3ea6dc" stroke-width="1.1"/>
<line x1="616.2" y1="188.93" x2="696.8" y2="188.93" stroke="#3ea6dc" stroke-width="1.1"/>
<line x1="616.2" y1="200.67" x2="696.8" y2="200.67" stroke="#3ea6dc" stroke-width="1.1"/>
<rect x="611.4" y="146.7" width="80.6" height="70.4" fill="#fff" stroke="#d7202f" stroke-width="1.1"/>
<line x1="624.83" y1="146.7" x2="624.83" y2="217.1" stroke="#d7202f" stroke-width="1.1"/>
<line x1="638.27" y1="146.7" x2="638.27" y2="217.1" stroke="#d7202f" stroke-width="1.1"/>
<line x1="651.7" y1="146.7" x2="651.7" y2="217.1" stroke="#d7202f" stroke-width="1.1"/>
<line x1="665.13" y1="146.7" x2="665.13" y2="217.1" stroke="#d7202f" stroke-width="1.1"/>
<line x1="678.57" y1="146.7" x2="678.57" y2="217.1" stroke="#d7202f" stroke-width="1.1"/>
<line x1="611.4" y1="158.43" x2="692" y2="158.43" stroke="#d7202f" stroke-width="1.1"/>
<line x1="611.4" y1="170.17" x2="692" y2="170.17" stroke="#d7202f" stroke-width="1.1"/>
<line x1="611.4" y1="181.9" x2="692" y2="181.9" stroke="#d7202f" stroke-width="1.1"/>
<line x1="611.4" y1="193.63" x2="692" y2="193.63" stroke="#d7202f" stroke-width="1.1"/>
<line x1="611.4" y1="205.37" x2="692" y2="205.37" stroke="#d7202f" stroke-width="1.1"/>
<rect x="606.2" y="152" width="80.6" height="70.4" fill="#fff" stroke="#111" stroke-width="1.5"/>
<line x1="619.63" y1="152" x2="619.63" y2="222.4" stroke="#111" stroke-width="1.5"/>
<line x1="633.07" y1="152" x2="633.07" y2="222.4" stroke="#111" stroke-width="1.5"/>
<line x1="646.5" y1="152" x2="646.5" y2="222.4" stroke="#111" stroke-width="1.5"/>
<line x1="659.93" y1="152" x2="659.93" y2="222.4" stroke="#111" stroke-width="1.5"/>
<line x1="673.37" y1="152" x2="673.37" y2="222.4" stroke="#111" stroke-width="1.5"/>
<line x1="606.2" y1="163.73" x2="686.8" y2="163.73" stroke="#111" stroke-width="1.5"/>
<line x1="606.2" y1="175.47" x2="686.8" y2="175.47" stroke="#111" stroke-width="1.5"/>
<line x1="606.2" y1="187.2" x2="686.8" y2="187.2" stroke="#111" stroke-width="1.5"/>
<line x1="606.2" y1="198.93" x2="686.8" y2="198.93" stroke="#111" stroke-width="1.5"/>
<line x1="606.2" y1="210.67" x2="686.8" y2="210.67" stroke="#111" stroke-width="1.5"/>
<polygon points="653.9,245 656.9,245 656.9,255 659.7,255 655.4,262.8 651.1,255 653.9,255" fill="#1b2f8f"/>
<polygon points="651.4,364.2 654.4,364.2 654.4,371 657.7,371 652.9,381.9 648.1,371 651.4,371" fill="#1b2f8f"/>
<ellipse cx="622.5" cy="274.4" rx="13.1" ry="7.1" fill="#1c3591"/>
<ellipse cx="678.7" cy="274.4" rx="13.1" ry="7.1" fill="#8dc63f"/>
<rect x="597.1" y="290.1" width="20.8" height="12.7" fill="#f7941d"/>
<rect x="626" y="290.1" width="20.8" height="12.7" fill="#2aa9e0"/>
<rect x="655" y="290.1" width="20.8" height="12.7" fill="#ec068d"/>
<rect x="684" y="290.1" width="20.8" height="12.7" fill="#662d91"/>
<line x1="617" y1="281.3" x2="608.5" y2="290.1" stroke="#333" stroke-width="0.9"/>
<line x1="628" y1="281.3" x2="636.3" y2="290.1" stroke="#333" stroke-width="0.9"/>
<line x1="673" y1="281.3" x2="665.3" y2="290.1" stroke="#333" stroke-width="0.9"/>
<line x1="684.5" y1="281.3" x2="692.6" y2="290.1" stroke="#333" stroke-width="0.9"/>
<line x1="607.5" y1="304" x2="599.8" y2="313.8" stroke="#333" stroke-width="0.9"/>
<line x1="607.5" y1="304" x2="614" y2="313.8" stroke="#333" stroke-width="0.9"/>
<line x1="636.4" y1="304" x2="629.3" y2="313.8" stroke="#333" stroke-width="0.9"/>
<line x1="636.4" y1="304" x2="643.2" y2="313.8" stroke="#333" stroke-width="0.9"/>
<line x1="665.4" y1="304" x2="658.4" y2="313.8" stroke="#333" stroke-width="0.9"/>
<line x1="665.4" y1="304" x2="672.2" y2="313.8" stroke="#333" stroke-width="0.9"/>
<line x1="694.4" y1="304" x2="688.6" y2="313.8" stroke="#333" stroke-width="0.9"/>
<line x1="694.4" y1="304" x2="705.2" y2="313.8" stroke="#333" stroke-width="0.9"/>
<circle cx="599.3" cy="320.7" r="5.0" fill="#662d91"/>
<circle cx="614.5" cy="320.7" r="5.0" fill="#00aeef"/>
<circle cx="628.8" cy="320.7" r="5.0" fill="#d7df23"/>
<circle cx="643.7" cy="320.7" r="5.0" fill="#13a86b"/>
<circle cx="657.9" cy="320.7" r="5.0" fill="#1c3591"/>
<circle cx="672.7" cy="320.7" r="5.0" fill="#d7df23"/>
<circle cx="705.7" cy="320.7" r="5.0" fill="#ef4136"/>
<rect x="681.2" y="317.7" width="13.8" height="7.6" fill="#39b54a"/>
<line x1="688.1" y1="326.3" x2="681.5" y2="335.5" stroke="#333" stroke-width="0.9"/>
<line x1="688.1" y1="326.3" x2="694.5" y2="335.5" stroke="#333" stroke-width="0.9"/>
<circle cx="679.5" cy="341.9" r="5.0" fill="#f7941d"/>
<circle cx="695.5" cy="341.9" r="5.0" fill="#8dc63f"/>
<rect x="596.8" y="384.3" width="118" height="76.5" rx="1.5" fill="#3e3b3c"/>
<rect x="601.0" y="387.7" width="110.1" height="69.4" fill="#fff"/>
<rect x="596.8" y="460.3" width="118" height="4.4" fill="#c9ced6"/>
<polygon points="642.4,464.7 670.4,464.7 671.5,477.3 641.3,477.3" fill="#868b93"/>
<rect x="636.3" y="477.0" width="39.5" height="1.8" fill="#aab0b8"/>
<path d="M679.67,439.52L674.18,431.77M664.69,431.38L674.18,431.77M641.04,428.68L651.19,430.71M667.03,422.96L675.97,418.25M667.03,422.96L668.26,415.62M661.26,413.59L654.85,410.99M632.64,416.42L638.27,415.08M689.9,435.92L685.03,445.66M645.86,404.29L638.27,415.08M636.3,398.15L645.86,404.29M616.93,430.61L612.06,434.44M681.24,403.31L671.16,408.43M643.61,448.1L656.39,452.66M681.24,403.31L691.61,401.42M651.22,450.37L651.26,439.37M622.1,434.1L612.06,434.44M667.03,422.96L664.69,431.38M619.24,440.79L622.1,434.1M683.32,419.82L683.35,409.33M661.26,397.89L667.62,400.5M666.63,449.01L661.81,442.65M632.64,416.42L632.64,406.68M619.24,422.51L616.93,430.61M678.05,427.48L684.72,432.75M664.69,431.38L660.59,425.95M678.05,427.48L675.97,418.25M641.04,428.68L631.83,424.46M638.27,415.08L631.83,424.46M619.24,440.79L608.27,446.88M668.05,438.44L659.16,437.07M624.19,426.56L631.83,424.46M666.63,449.01L678.59,448.97M608.27,446.88L612.06,434.44M638.99,406.46L638.27,415.08M675.28,388.4L665.42,390.99M632.64,406.68L638.99,406.46M641.04,428.68L647.54,423.61M671.16,408.43L661.26,413.59M654.94,425.64L661.26,413.59M665.42,390.99L661.26,397.89M689.9,435.92L684.72,432.75M675.97,418.25L668.26,415.62M651.19,430.71L651.26,439.37M664.69,431.38L659.16,437.07M651.19,430.71L659.16,437.07M685.03,445.66L679.67,439.52M659.16,437.07L651.26,439.37M624.19,426.56L622.1,434.1M681.24,403.31L686.51,398.5M666.63,449.01L668.05,438.44M647.54,423.61L651.19,430.71M689.9,411.55L683.32,419.82M678.59,448.97L675.13,444.12M654.94,425.64L660.59,425.95M645.86,404.29L651.46,415.82M609.49,428.61L619.24,422.51M655.79,389.62L654.2,404.83M642.41,436.34L644.37,441.78M654.2,404.83L667.62,400.5M689.9,411.55L691.61,401.42M667.03,422.96L674.18,431.77M661.26,413.59L660.59,425.95M665.42,390.99L676.81,395.7M689.9,411.55L689.47,420.93M643.61,448.1L633.86,445.66M663.1,455.41L678.59,448.97M645.86,404.29L638.99,406.46M624.19,426.56L616.93,430.61M673.13,401.64L676.81,395.7M668.05,438.44L661.81,442.65M656.39,452.66L661.81,442.65M666.63,449.01L656.39,452.66M654.94,425.64L659.16,437.07M692.34,426.17L689.47,420.93M666.63,449.01L675.13,444.12M651.19,430.71L642.41,436.34M619.24,422.51L624.19,426.56M641.04,428.68L638.27,415.08M675.28,388.4L676.81,395.7M667.62,400.5L676.81,395.7M659.16,437.07L661.81,442.65M697.21,396.93L686.51,398.5M683.32,419.82L678.05,427.48M632.64,406.68L636.3,398.15M667.03,422.96L678.05,427.48M686.51,398.5L676.81,395.7M643.61,448.1L644.37,441.78M663.1,455.41L656.39,452.66M683.35,409.33L691.61,401.42M684.72,432.75L674.18,431.77M643.61,448.1L651.22,450.37M651.22,450.37L656.39,452.66M678.59,448.97L679.67,439.52M671.16,408.43L667.62,400.5M651.46,415.82L654.85,410.99M609.49,428.61L616.93,430.61M632.64,416.42L624.19,426.56M637.25,439.09L642.41,436.34M655.79,389.62L665.42,390.99M661.26,413.59L667.62,400.5M655.45,445.61L659.16,437.07M697.21,396.93L691.61,401.42M655.45,445.61L651.26,439.37M613.52,439.9L612.06,434.44M668.05,438.44L664.69,431.38M685.03,445.66L678.59,448.97M684.72,432.75L679.67,439.52M633.86,445.66L637.25,439.09M673.13,401.64L671.16,408.43M619.24,440.79L612.06,434.44M647.54,423.61L638.27,415.08M668.05,438.44L675.13,444.12M608.27,446.88L613.52,439.9M622.1,434.1L631.83,424.46M692.34,426.17L684.72,432.75M654.94,425.64L651.46,415.82M651.22,450.37L644.37,441.78M667.03,422.96L661.26,413.59M609.49,428.61L612.06,434.44M654.2,404.83L661.26,397.89M641.17,390.84L645.86,404.29M689.9,411.55L683.35,409.33M661.26,413.59L651.46,415.82M667.03,422.96L660.59,425.95M678.05,427.48L674.18,431.77M671.16,408.43L675.97,418.25M671.16,408.43L668.26,415.62M654.2,404.83L645.86,404.29M681.24,403.31L683.35,409.33M645.86,404.29L654.85,410.99M644.37,441.78L651.26,439.37M655.45,445.61L661.81,442.65M632.64,406.68L638.27,415.08M661.26,413.59L668.26,415.62M651.22,450.37L655.45,445.61M684.72,432.75L689.47,420.93M683.35,409.33L675.97,418.25M641.04,428.68L642.41,436.34M671.16,408.43L683.35,409.33M668.05,438.44L674.18,431.77M675.28,388.4L686.51,398.5M683.32,419.82L689.47,420.93M641.04,428.68L637.25,439.09M642.41,436.34L651.26,439.37M654.94,425.64L651.19,430.71M668.05,438.44L679.67,439.52M689.9,435.92L679.67,439.52M654.2,404.83L654.85,410.99M638.27,415.08L651.46,415.82M633.86,445.66L644.37,441.78M681.24,403.31L673.13,401.64M636.3,398.15L638.99,406.46M632.64,416.42L631.83,424.46M681.24,403.31L676.81,395.7M637.25,439.09L644.37,441.78M679.67,439.52L675.13,444.12M655.79,389.62L661.26,397.89M659.16,437.07L660.59,425.95M665.42,390.99L667.62,400.5M682.59,454.19L678.59,448.97M641.17,390.84L655.79,389.62M682.59,454.19L663.1,455.41M673.13,401.64L667.62,400.5M655.45,445.61L656.39,452.66M637.25,439.09L631.83,424.46M700.87,420.08L689.47,420.93M619.24,440.79L613.52,439.9M694.78,406.68L691.61,401.42M655.79,389.62L645.86,404.29M654.94,425.64L647.54,423.61M686.51,398.5L691.61,401.42M633.86,445.66L622.1,434.1M637.25,439.09L622.1,434.1M622.1,434.1L616.93,430.61M663.1,455.41L666.63,449.01M654.2,404.83L661.26,413.59M683.32,419.82L684.72,432.75M647.54,423.61L651.46,415.82M683.32,419.82L675.97,418.25" stroke="#3a3a3a" stroke-width="0.5" stroke-dasharray="1.3 0.9" fill="none"/>
<circle cx="641.17" cy="390.84" r="0.6" fill="#333"/>
<circle cx="655.79" cy="389.62" r="0.6" fill="#333"/>
<circle cx="675.28" cy="388.4" r="0.6" fill="#333"/>
<circle cx="697.21" cy="396.93" r="0.6" fill="#333"/>
<circle cx="694.78" cy="406.68" r="0.6" fill="#333"/>
<circle cx="689.9" cy="411.55" r="0.6" fill="#333"/>
<circle cx="700.87" cy="420.08" r="0.6" fill="#333"/>
<circle cx="692.34" cy="426.17" r="0.6" fill="#333"/>
<circle cx="689.9" cy="435.92" r="0.6" fill="#333"/>
<circle cx="685.03" cy="445.66" r="0.6" fill="#333"/>
<circle cx="682.59" cy="454.19" r="0.6" fill="#333"/>
<circle cx="663.1" cy="455.41" r="0.6" fill="#333"/>
<circle cx="643.61" cy="448.1" r="0.6" fill="#333"/>
<circle cx="633.86" cy="445.66" r="0.6" fill="#333"/>
<circle cx="619.24" cy="440.79" r="0.6" fill="#333"/>
<circle cx="608.27" cy="446.88" r="0.6" fill="#333"/>
<circle cx="609.49" cy="428.61" r="0.6" fill="#333"/>
<circle cx="619.24" cy="422.51" r="0.6" fill="#333"/>
<circle cx="632.64" cy="416.42" r="0.6" fill="#333"/>
<circle cx="632.64" cy="406.68" r="0.6" fill="#333"/>
<circle cx="636.3" cy="398.15" r="0.6" fill="#333"/>
<circle cx="666.63" cy="449.01" r="0.6" fill="#333"/>
<circle cx="681.24" cy="403.31" r="0.6" fill="#333"/>
<circle cx="683.32" cy="419.82" r="0.6" fill="#333"/>
<circle cx="654.94" cy="425.64" r="0.6" fill="#333"/>
<circle cx="665.42" cy="390.99" r="0.6" fill="#333"/>
<circle cx="651.22" cy="450.37" r="0.6" fill="#333"/>
<circle cx="667.03" cy="422.96" r="0.6" fill="#333"/>
<circle cx="654.2" cy="404.83" r="0.6" fill="#333"/>
<circle cx="673.13" cy="401.64" r="0.6" fill="#333"/>
<circle cx="686.51" cy="398.5" r="0.6" fill="#333"/>
<circle cx="655.45" cy="445.61" r="0.6" fill="#333"/>
<circle cx="668.05" cy="438.44" r="0.6" fill="#333"/>
<circle cx="641.04" cy="428.68" r="0.6" fill="#333"/>
<circle cx="664.69" cy="431.38" r="0.6" fill="#333"/>
<circle cx="671.16" cy="408.43" r="0.6" fill="#333"/>
<circle cx="661.26" cy="397.89" r="0.6" fill="#333"/>
<circle cx="661.26" cy="413.59" r="0.6" fill="#333"/>
<circle cx="645.86" cy="404.29" r="0.6" fill="#333"/>
<circle cx="637.25" cy="439.09" r="0.6" fill="#333"/>
<circle cx="647.54" cy="423.61" r="0.6" fill="#333"/>
<circle cx="638.99" cy="406.46" r="0.6" fill="#333"/>
<circle cx="678.05" cy="427.48" r="0.6" fill="#333"/>
<circle cx="656.39" cy="452.66" r="0.6" fill="#333"/>
<circle cx="638.27" cy="415.08" r="0.6" fill="#333"/>
<circle cx="651.19" cy="430.71" r="0.6" fill="#333"/>
<circle cx="667.62" cy="400.5" r="0.6" fill="#333"/>
<circle cx="676.81" cy="395.7" r="0.6" fill="#333"/>
<circle cx="624.19" cy="426.56" r="0.6" fill="#333"/>
<circle cx="622.1" cy="434.1" r="0.6" fill="#333"/>
<circle cx="684.72" cy="432.75" r="0.6" fill="#333"/>
<circle cx="616.93" cy="430.61" r="0.6" fill="#333"/>
<circle cx="683.35" cy="409.33" r="0.6" fill="#333"/>
<circle cx="691.61" cy="401.42" r="0.6" fill="#333"/>
<circle cx="613.52" cy="439.9" r="0.6" fill="#333"/>
<circle cx="642.41" cy="436.34" r="0.6" fill="#333"/>
<circle cx="631.83" cy="424.46" r="0.6" fill="#333"/>
<circle cx="678.59" cy="448.97" r="0.6" fill="#333"/>
<circle cx="679.67" cy="439.52" r="0.6" fill="#333"/>
<circle cx="675.97" cy="418.25" r="0.6" fill="#333"/>
<circle cx="659.16" cy="437.07" r="0.6" fill="#333"/>
<circle cx="675.13" cy="444.12" r="0.6" fill="#333"/>
<circle cx="689.47" cy="420.93" r="0.6" fill="#333"/>
<circle cx="644.37" cy="441.78" r="0.6" fill="#333"/>
<circle cx="661.81" cy="442.65" r="0.6" fill="#333"/>
<circle cx="674.18" cy="431.77" r="0.6" fill="#333"/>
<circle cx="651.46" cy="415.82" r="0.6" fill="#333"/>
<circle cx="660.59" cy="425.95" r="0.6" fill="#333"/>
<circle cx="668.26" cy="415.62" r="0.6" fill="#333"/>
<circle cx="651.26" cy="439.37" r="0.6" fill="#333"/>
<circle cx="654.85" cy="410.99" r="0.6" fill="#333"/>
<circle cx="612.06" cy="434.44" r="0.6" fill="#333"/>
<circle cx="633.5" cy="434.5" r="1.1" fill="#3050a0"/>
<circle cx="667" cy="435" r="1.1" fill="#3050a0"/>
<circle cx="670" cy="441" r="1.1" fill="#3050a0"/>
<circle cx="678" cy="441" r="1.1" fill="#3050a0"/>
<circle cx="622" cy="433" r="1.1" fill="#c08040"/>
<circle cx="646" cy="444" r="1.1" fill="#b03050"/>
<circle cx="677" cy="438" r="1.1" fill="#b03050"/>
<circle cx="682" cy="442" r="1.1" fill="#5a7a9a"/>
<polygon points="122.44,82.93 122.54,82.86 122.67,82.82 122.82,82.79 122.98,82.79 123.16,82.81 123.36,82.85 123.58,82.9 123.82,82.98 124.07,83.08 124.34,83.19 124.62,83.32 124.92,83.46 125.22,83.62 125.54,83.79 125.87,83.97 126.2,84.16 126.54,84.35 126.89,84.56 127.24,84.76 127.6,84.97 127.95,85.18 128.3,85.39 128.66,85.6 129.01,85.81 129.35,86.01 129.69,86.2 130.02,86.38 130.34,86.55 130.65,86.71 130.94,86.86 131.23,86.99 131.5,87.11 131.76,87.21 132,87.29 132.22,87.36 132.43,87.4 132.62,87.42 132.79,87.43 132.94,87.41 133.07,87.37 133.18,87.3 133.27,87.22 131.18,89.08 131.08,89.16 130.97,89.22 130.84,89.27 130.69,89.28 130.52,89.28 130.33,89.26 130.13,89.21 129.9,89.15 129.66,89.07 129.41,88.97 129.13,88.85 128.85,88.72 128.55,88.57 128.24,88.41 127.92,88.24 127.59,88.06 127.25,87.86 126.91,87.67 126.56,87.46 126.21,87.25 125.86,87.04 125.5,86.83 125.15,86.62 124.8,86.41 124.45,86.21 124.11,86.02 123.77,85.83 123.45,85.65 123.13,85.48 122.82,85.32 122.53,85.18 122.24,85.05 121.98,84.94 121.73,84.84 121.49,84.76 121.27,84.7 121.07,84.67 120.89,84.65 120.72,84.65 120.58,84.68 120.45,84.72 120.34,84.79" fill="#1aa39a"/>
<polygon points="130.21,76.04 130.31,75.97 130.44,75.92 130.58,75.89 130.74,75.89 130.93,75.9 131.13,75.94 131.34,76 131.58,76.07 131.83,76.17 132.1,76.28 132.38,76.4 132.67,76.55 132.98,76.7 133.29,76.87 133.62,77.05 133.95,77.24 134.3,77.43 134.64,77.64 134.99,77.84 135.35,78.05 135.7,78.26 136.06,78.48 136.41,78.68 136.76,78.89 137.1,79.09 137.44,79.28 137.77,79.46 138.09,79.64 138.4,79.8 138.7,79.95 138.99,80.08 139.26,80.2 139.52,80.3 139.76,80.38 139.98,80.45 140.19,80.49 140.38,80.52 140.55,80.52 140.7,80.51 140.84,80.47 140.95,80.4 141.04,80.32 138.95,82.18 138.86,82.26 138.74,82.32 138.61,82.36 138.46,82.38 138.29,82.38 138.1,82.35 137.89,82.31 137.66,82.24 137.42,82.16 137.16,82.06 136.89,81.94 136.61,81.8 136.31,81.66 136,81.49 135.68,81.32 135.35,81.14 135.01,80.95 134.66,80.75 134.31,80.54 133.96,80.33 133.61,80.12 133.25,79.91 132.9,79.7 132.55,79.5 132.2,79.29 131.86,79.1 131.53,78.91 131.2,78.73 130.88,78.56 130.58,78.41 130.28,78.26 130,78.14 129.74,78.02 129.49,77.93 129.25,77.85 129.03,77.8 128.83,77.76 128.65,77.74 128.49,77.75 128.34,77.78 128.22,77.82 128.11,77.89" fill="#1aa39a"/>
<polygon points="138.08,69.07 138.21,69.02 138.35,68.99 138.51,68.98 138.69,69 138.89,69.03 139.11,69.09 139.34,69.16 139.59,69.25 139.85,69.36 140.13,69.49 140.43,69.63 140.73,69.79 141.05,69.95 141.37,70.13 141.71,70.32 142.05,70.52 142.4,70.72 142.75,70.93 143.1,71.13 143.45,71.35 143.81,71.56 144.16,71.76 144.51,71.97 144.85,72.17 145.19,72.36 145.52,72.55 145.85,72.72 146.16,72.88 146.46,73.03 146.74,73.17 147.02,73.29 147.28,73.39 147.52,73.47 147.75,73.54 147.95,73.59 148.15,73.61 148.32,73.62 148.47,73.6 148.61,73.57 148.72,73.51 148.81,73.42 146.72,75.28 146.63,75.36 146.51,75.42 146.38,75.46 146.22,75.48 146.05,75.47 145.86,75.45 145.65,75.4 145.42,75.33 145.18,75.25 144.92,75.14 144.65,75.02 144.36,74.89 144.06,74.74 143.75,74.58 143.43,74.4 143.1,74.22 142.76,74.03 142.42,73.83 142.07,73.62 141.71,73.41 141.36,73.2 141.01,72.99 140.65,72.78 140.3,72.58 139.95,72.38 139.61,72.18 139.28,71.99 138.95,71.81 138.64,71.65 138.33,71.49 138.04,71.35 137.76,71.22 137.5,71.11 137.25,71.02 137.01,70.95 136.8,70.89 136.6,70.85 136.42,70.84 136.25,70.85 136.11,70.87 135.99,70.92" fill="#1aa39a"/>
<polygon points="145.85,62.17 145.97,62.12 146.12,62.09 146.28,62.08 146.45,62.09 146.65,62.12 146.87,62.18 147.1,62.25 147.35,62.34 147.61,62.45 147.89,62.58 148.18,62.72 148.49,62.87 148.8,63.04 149.13,63.22 149.46,63.4 149.8,63.6 150.15,63.8 150.5,64.01 150.85,64.22 151.21,64.43 151.56,64.64 151.91,64.85 152.26,65.05 152.61,65.25 152.95,65.44 153.28,65.63 153.6,65.8 153.91,65.97 154.21,66.12 154.5,66.25 154.78,66.37 155.04,66.48 155.28,66.56 155.51,66.63 155.72,66.68 155.91,66.71 156.08,66.72 156.24,66.7 156.37,66.67 156.49,66.61 156.59,66.53 154.49,68.39 154.4,68.47 154.28,68.52 154.14,68.56 153.99,68.57 153.82,68.57 153.62,68.54 153.41,68.49 153.19,68.42 152.94,68.34 152.68,68.23 152.41,68.11 152.12,67.98 151.82,67.82 151.51,67.66 151.18,67.49 150.85,67.3 150.51,67.11 150.17,66.91 149.82,66.7 149.47,66.5 149.11,66.28 148.76,66.07 148.4,65.86 148.05,65.66 147.71,65.46 147.37,65.26 147.03,65.07 146.71,64.9 146.39,64.73 146.09,64.58 145.8,64.44 145.52,64.31 145.25,64.2 145.01,64.11 144.77,64.04 144.56,63.98 144.36,63.95 144.18,63.94 144.02,63.94 143.88,63.97 143.76,64.03" fill="#1aa39a"/>
<polygon points="153.62,55.27 153.74,55.21 153.88,55.18 154.04,55.17 154.22,55.19 154.42,55.22 154.63,55.27 154.86,55.34 155.11,55.43 155.37,55.54 155.65,55.66 155.94,55.8 156.24,55.96 156.56,56.12 156.88,56.3 157.21,56.49 157.55,56.68 157.9,56.88 158.25,57.09 158.6,57.3 156.51,59.15 156.16,58.95 155.81,58.74 155.46,58.54 155.12,58.34 154.79,58.16 154.46,57.98 154.15,57.81 153.84,57.66 153.55,57.52 153.28,57.4 153.01,57.29 152.77,57.2 152.53,57.13 152.32,57.08 152.12,57.04 151.95,57.03 151.79,57.04 151.65,57.07 151.53,57.13" fill="#1aa39a"/>
<polygon points="123.91,83.13 123.85,82.87 123.81,82.63 123.78,82.42 123.77,82.22 123.78,82.04 123.81,81.88 123.86,81.74 123.92,81.63 124.01,81.54 118.77,86.19 118.69,86.28 118.62,86.39 118.57,86.53 118.55,86.68 118.54,86.86 118.55,87.06 118.57,87.28 118.62,87.52 118.68,87.78" fill="#3fe2d2"/>
<polygon points="134.84,85.82 134.91,85.72 134.97,85.59 135,85.44 135.01,85.26 135.01,85.07 134.99,84.86 134.95,84.62 134.89,84.37 134.82,84.1 134.73,83.81 134.63,83.51 134.52,83.2 134.39,82.87 134.26,82.53 134.11,82.18 133.96,81.82 133.81,81.45 133.64,81.08 133.48,80.7 133.31,80.33 133.14,79.95 132.98,79.57 132.81,79.2 132.65,78.83 132.5,78.47 132.35,78.12 132.22,77.78 132.09,77.44 131.97,77.12 131.87,76.81 131.77,76.52 131.7,76.25 131.64,75.99 131.59,75.75 131.56,75.53 131.55,75.33 131.56,75.15 131.58,74.99 131.63,74.85 131.69,74.74 131.78,74.64 126.54,79.29 126.46,79.38 126.39,79.5 126.35,79.63 126.32,79.79 126.31,79.97 126.33,80.17 126.35,80.39 126.4,80.63 126.46,80.89 126.54,81.17 126.63,81.46 126.74,81.77 126.85,82.09 126.98,82.42 127.12,82.77 127.27,83.12 127.42,83.48 127.58,83.85 127.74,84.22 127.91,84.6 128.08,84.97 128.24,85.35 128.41,85.73 128.57,86.1 128.73,86.46 128.88,86.82 129.02,87.17 129.16,87.51 129.28,87.84 129.39,88.16 129.5,88.46 129.58,88.75 129.65,89.02 129.71,89.27 129.75,89.5 129.77,89.72 129.78,89.91 129.76,90.08 129.73,90.23 129.68,90.36 129.61,90.47" fill="#3fe2d2"/>
<polygon points="142.61,78.93 142.69,78.82 142.74,78.69 142.78,78.54 142.79,78.37 142.79,78.18 142.77,77.97 142.73,77.74 142.67,77.49 142.6,77.22 142.52,76.93 142.42,76.63 142.3,76.32 142.18,75.99 142.05,75.65 141.9,75.3 141.75,74.94 141.6,74.57 141.43,74.2 141.27,73.83 141.1,73.45 140.93,73.07 140.77,72.7 140.6,72.33 140.44,71.96 140.29,71.6 140.14,71.24 140,70.9 139.88,70.56 139.76,70.24 139.65,69.93 139.56,69.64 139.48,69.36 139.42,69.1 139.37,68.86 139.34,68.64 139.33,68.44 139.33,68.26 139.36,68.09 139.4,67.96 139.47,67.84 139.55,67.74 139.65,67.67 134.42,72.32 134.32,72.39 134.23,72.49 134.17,72.6 134.12,72.74 134.1,72.9 134.09,73.08 134.11,73.29 134.14,73.51 134.18,73.75 134.25,74.01 134.32,74.29 134.42,74.58 134.52,74.89 134.64,75.21 134.77,75.54 134.91,75.89 135.06,76.24 135.21,76.6 135.37,76.97 135.53,77.35 135.7,77.72 135.87,78.1 136.03,78.48 136.2,78.85 136.36,79.22 136.52,79.59 136.67,79.94 136.81,80.29 136.94,80.63 137.07,80.96 137.18,81.28 137.28,81.58 137.37,81.86 137.44,82.13 137.49,82.38 137.53,82.61 137.55,82.83 137.56,83.02 137.54,83.19 137.51,83.34 137.45,83.47 137.38,83.57" fill="#3fe2d2"/>
<polygon points="150.38,72.03 150.46,71.93 150.52,71.8 150.55,71.65 150.57,71.48 150.57,71.29 150.55,71.08 150.51,70.85 150.46,70.6 150.39,70.33 150.3,70.05 150.2,69.75 150.09,69.44 149.97,69.11 149.83,68.77 149.69,68.42 149.54,68.06 149.39,67.7 149.22,67.33 149.06,66.95 148.89,66.58 148.72,66.2 148.56,65.82 148.39,65.45 148.23,65.08 148.08,64.72 147.93,64.36 147.79,64.02 147.66,63.68 147.54,63.36 147.44,63.05 147.34,62.76 147.26,62.48 147.2,62.22 147.15,61.97 147.12,61.75 147.11,61.55 147.11,61.36 147.14,61.2 147.18,61.06 147.24,60.94 147.32,60.85 147.42,60.77 142.19,65.42 142.09,65.49 142,65.59 141.94,65.71 141.9,65.85 141.88,66.01 141.87,66.19 141.88,66.4 141.92,66.62 141.96,66.86 142.03,67.13 142.11,67.4 142.2,67.7 142.31,68.01 142.43,68.33 142.56,68.66 142.7,69.01 142.84,69.37 143,69.73 143.16,70.1 143.32,70.47 143.49,70.85 143.66,71.22 143.82,71.6 143.99,71.97 144.15,72.34 144.31,72.71 144.46,73.07 144.6,73.42 144.73,73.76 144.86,74.08 144.97,74.4 145.07,74.7 145.15,74.98 145.22,75.25 145.27,75.5 145.31,75.73 145.33,75.94 145.33,76.13 145.32,76.3 145.28,76.45 145.22,76.57 145.15,76.68" fill="#3fe2d2"/>
<polygon points="158.16,65.13 158.23,65.03 158.29,64.91 158.33,64.76 158.35,64.59 158.35,64.4 158.33,64.19 158.29,63.96 158.24,63.72 158.17,63.45 158.09,63.17 157.99,62.87 157.88,62.56 157.76,62.23 157.62,61.89 157.48,61.54 157.33,61.19 157.18,60.82 157.01,60.45 156.85,60.08 156.68,59.7 156.52,59.32 156.35,58.95 156.18,58.57 156.02,58.2 155.87,57.84 155.72,57.49 155.58,57.14 155.45,56.8 155.33,56.48 155.22,56.17 155.13,55.87 155.05,55.6 154.98,55.33 154.93,55.09 154.9,54.86 154.89,54.66 154.89,54.47 154.91,54.31 154.95,54.17 155.01,54.05 155.09,53.95 155.19,53.87 149.96,58.52 149.86,58.6 149.78,58.69 149.72,58.81 149.68,58.96 149.65,59.12 149.65,59.3 149.66,59.51 149.7,59.74 149.75,59.98 149.81,60.24 149.89,60.52 149.99,60.82 150.1,61.13 150.22,61.45 150.35,61.79 150.49,62.13 150.63,62.49 150.79,62.85 150.95,63.22 151.11,63.59 151.28,63.97 151.45,64.35 151.61,64.72 151.78,65.1 151.94,65.47 152.1,65.83 152.25,66.19 152.39,66.54 152.52,66.88 152.64,67.2 152.75,67.52 152.85,67.81 152.93,68.1 153,68.36 153.06,68.61 153.09,68.84 153.11,69.05 153.11,69.24 153.09,69.41 153.05,69.55 153,69.68 152.92,69.78" fill="#3fe2d2"/>
<path d="M155.8,61C155.77,60.25 156.15,58.13 155.6,56.5C155.05,54.87 152.47,52.38 152.5,51.2C152.53,50.02 154.62,49.47 155.8,49.4C156.98,49.33 159.1,50.17 159.6,50.8C160.1,51.43 158.93,52.8 158.8,53.2" fill="none" stroke="#24b8ad" stroke-width="1.1" stroke-linejoin="round" stroke-linecap="round"/>
<path d="M124.8,89.5C124.27,89.68 121.98,90.02 121.6,90.6C121.22,91.18 122.05,92.3 122.5,93C122.95,93.7 124,94.5 124.3,94.8" fill="none" stroke="#24b8ad" stroke-width="1.1" stroke-linejoin="round" stroke-linecap="round"/>
<path d="M164.2,150.1C163.58,150.8 161.77,153.03 160.5,154.3C159.23,155.57 157.25,157.13 156.6,157.7" fill="none" stroke="#2ed23c" stroke-width="1.1" stroke-linejoin="round" stroke-linecap="round"/>
<polygon points="156.89,156.12 135.05,175.89 133.47,174.15 131.1,182.7 139.85,181.19 138.27,179.45 160.11,159.68" fill="#1d9e2a"/>
<polygon points="155.99,155.22 134.15,174.99 132.57,173.25 130.2,181.8 138.95,180.29 137.37,178.55 159.21,158.78" fill="#2ed23c"/>
<polygon points="144.11,187.78 159.49,178.84 160.41,180.44 163.9,173.5 156.14,173.09 157.07,174.69 141.69,183.62" fill="#1d9e2a"/>
<polygon points="143.21,186.88 158.59,177.94 159.51,179.54 163,172.6 155.24,172.19 156.17,173.79 140.79,182.72" fill="#2ed23c"/>
<path d="M162.8,173.2C163.25,172.5 164.43,170.6 165.5,169C166.57,167.4 168.58,164.5 169.2,163.6" fill="none" stroke="#2ed23c" stroke-width="1.1" stroke-linejoin="round" stroke-linecap="round"/>
<path d="M131,181C130.42,181.83 129.17,184.58 127.5,186C125.83,187.42 123,188.72 121,189.5C119,190.28 116.33,190.05 115.5,190.7C114.67,191.35 115.08,192.45 116,193.4C116.92,194.35 119.33,195.33 121,196.4C122.67,197.47 124,199.5 126,199.8C128,200.1 130.83,199.27 133,198.2C135.17,197.13 137.5,195.17 139,193.4C140.5,191.63 141.33,189.08 142,187.6C142.67,186.12 142.83,185.02 143,184.5" fill="none" stroke="#2ed23c" stroke-width="1.3" stroke-linejoin="round" stroke-linecap="round"/>
<path d="M111.48,298.63C112.24,298.6 114.8,298.74 116.04,298.46C117.28,298.18 118.18,297.76 118.91,296.94C119.64,296.13 119.87,294.64 120.43,293.57C121,292.5 121.47,291.26 122.29,290.53C123.11,289.8 124.32,289.4 125.33,289.18C126.34,288.95 127.38,289.4 128.37,289.18C129.35,288.95 129.92,288.36 131.24,287.83C132.56,287.29 134.48,286.42 136.31,285.97C138.13,285.52 140.25,285.4 142.22,285.12C144.19,284.84 146.3,284.7 148.13,284.28C149.95,283.86 151.56,283.41 153.19,282.59C154.82,281.77 156.48,280.59 157.92,279.38C159.35,278.17 160.76,276.91 161.8,275.33C162.84,273.75 164,271.61 164.17,269.93C164.34,268.24 163.72,266.3 162.82,265.2C161.92,264.1 160.03,263.34 158.76,263.34C157.5,263.34 156.23,264.24 155.22,265.2C154.2,266.15 153.73,268.01 152.68,269.08C151.64,270.15 150.57,270.91 148.97,271.61C147.37,272.32 144.97,272.88 143.06,273.3C141.15,273.73 139.2,273.64 137.49,274.15C135.77,274.65 133.94,275.47 132.76,276.34C131.58,277.21 130.99,278.2 130.4,279.38C129.8,280.56 129.33,282.08 129.21,283.43C129.1,284.79 129.18,287.04 129.72,287.49C130.25,287.94 131.75,286.76 132.42,286.14C133.1,285.52 133.74,284.45 133.77,283.77C133.8,283.1 132.79,282.37 132.59,282.08" fill="none" stroke="#c97b2c" stroke-width="1.25" stroke-linejoin="round" stroke-linecap="round"/>
<path d="M310.2,54.4C311.23,54.48 314.67,54.65 316.4,54.9C318.13,55.15 319.42,56.13 320.6,55.9C321.78,55.67 322.47,54.1 323.5,53.5C324.53,52.9 325.2,52.68 326.8,52.3C328.4,51.92 331.7,50.85 333.1,51.2C334.5,51.55 334.52,53.53 335.2,54.4C335.88,55.27 336.52,56.58 337.2,56.4C337.88,56.22 339.08,54.12 339.3,53.3C339.52,52.48 338.63,51.8 338.5,51.5" fill="none" stroke="#9ccc96" stroke-width="0.6" stroke-linejoin="round" stroke-linecap="round"/>
<path d="M325.8,61.6C326.67,61.08 329.62,59.62 331,58.5C332.38,57.38 333.58,55.5 334.1,54.9" fill="none" stroke="#9ccc96" stroke-width="0.6" stroke-linejoin="round" stroke-linecap="round"/>
<polygon points="256.24,72.97 256.53,72.79 257,72.39 257.59,71.82 258.25,71.16 258.91,70.5 259.51,69.93 259.99,69.53 260.3,69.36 260.65,69.61 259.11,68.49 259.22,68.57 258.91,68.75 258.44,69.15 257.84,69.72 257.17,70.38 256.51,71.04 255.92,71.61 255.45,72.02 255.15,72.21" fill="#7db777"/>
<polygon points="258.44,74.55 258.76,74.38 259.23,73.97 259.82,73.38 260.46,72.7 261.1,72.02 261.68,71.43 262.13,70.99 262.42,70.79 262.78,71.03 261.19,70 261.3,70.07 261.02,70.26 260.58,70.68 260,71.28 259.36,71.96 258.72,72.63 258.13,73.21 257.67,73.62 257.35,73.79" fill="#7db777"/>
<polygon points="260.94,76.09 261.24,75.89 261.67,75.44 262.22,74.8 262.8,74.05 263.36,73.31 263.87,72.65 264.25,72.16 264.51,71.93 264.9,72.12 263.2,71.28 263.32,71.34 263.07,71.56 262.69,72.04 262.19,72.69 261.62,73.43 261.05,74.16 260.51,74.78 260.09,75.23 259.79,75.43" fill="#7db777"/>
<polygon points="263.89,77.34 264.14,77.08 264.51,76.56 264.92,75.82 265.33,74.98 265.73,74.13 266.08,73.37 266.38,72.83 266.59,72.55 266.99,72.64 265.14,72.18 265.31,72.21 265.1,72.48 264.8,73.02 264.45,73.76 264.06,74.6 263.65,75.44 263.25,76.15 262.88,76.65 262.63,76.9" fill="#7db777"/>
<polygon points="266.88,78.02 267.12,77.73 267.38,77.16 267.67,76.38 267.98,75.49 268.28,74.6 268.55,73.82 268.78,73.24 268.95,72.94 269.37,72.99 267.49,72.73 267.64,72.75 267.47,73.04 267.24,73.61 266.96,74.39 266.67,75.28 266.36,76.15 266.07,76.93 265.81,77.49 265.58,77.76" fill="#7db777"/>
<polygon points="269.82,78.36 270.02,78.05 270.23,77.46 270.44,76.67 270.67,75.75 270.88,74.84 271.08,74.04 271.26,73.44 271.41,73.12 271.84,73.14 269.94,73.05 270.08,73.05 269.93,73.36 269.76,73.95 269.55,74.75 269.34,75.65 269.12,76.56 268.9,77.35 268.7,77.94 268.5,78.24" fill="#7db777"/>
<polygon points="272.74,78.45 272.92,78.13 273.07,77.52 273.22,76.71 273.37,75.78 273.5,74.85 273.64,74.04 273.77,73.43 273.89,73.1 274.31,73.08 272.42,73.15 272.56,73.14 272.44,73.46 272.31,74.06 272.17,74.87 272.04,75.8 271.89,76.71 271.74,77.53 271.59,78.13 271.41,78.44" fill="#7db777"/>
<polygon points="275.68,78.3 275.83,77.95 275.92,77.34 276,76.51 276.06,75.57 276.1,74.63 276.15,73.8 276.19,73.18 276.27,72.84 276.7,72.78 274.82,73.05 274.95,73.03 274.87,73.36 274.83,73.97 274.78,74.79 274.74,75.72 274.68,76.64 274.6,77.46 274.5,78.08 274.35,78.4" fill="#7db777"/>
<polygon points="278.69,77.75 278.77,77.41 278.8,76.77 278.77,75.94 278.7,75.01 278.62,74.07 278.56,73.24 278.55,72.62 278.6,72.27 279,72.16 277.17,72.66 277.32,72.61 277.26,72.96 277.27,73.58 277.33,74.39 277.41,75.32 277.48,76.25 277.51,77.07 277.47,77.69 277.39,78.04" fill="#7db777"/>
<polygon points="281.48,76.96 281.53,76.61 281.51,75.99 281.41,75.17 281.29,74.24 281.16,73.31 281.07,72.49 281.03,71.87 281.08,71.52 281.5,71.39 279.68,71.95 279.81,71.91 279.76,72.26 279.8,72.88 279.89,73.7 280.02,74.63 280.14,75.55 280.23,76.37 280.26,76.99 280.2,77.34" fill="#7db777"/>
<polygon points="284.07,76.17 284.11,75.83 284.08,75.21 283.99,74.39 283.87,73.46 283.76,72.53 283.68,71.71 283.66,71.09 283.72,70.74 284.15,70.62 282.32,71.14 282.44,71.11 282.38,71.46 282.41,72.08 282.48,72.9 282.6,73.84 282.72,74.76 282.8,75.59 282.84,76.21 282.79,76.56" fill="#7db777"/>
<polygon points="286.58,75.48 286.64,75.14 286.64,74.52 286.57,73.69 286.48,72.76 286.39,71.83 286.32,71.01 286.31,70.38 286.38,70.04 286.79,69.92 284.96,70.42 285.09,70.38 285.03,70.73 285.04,71.35 285.1,72.17 285.2,73.1 285.29,74.03 285.35,74.86 285.36,75.48 285.3,75.82" fill="#7db777"/>
<polygon points="289.21,74.78 289.27,74.43 289.26,73.8 289.19,72.98 289.09,72.05 288.99,71.12 288.92,70.3 288.9,69.68 288.96,69.33 289.38,69.21 287.55,69.72 287.68,69.68 287.62,70.03 287.64,70.65 287.71,71.47 287.81,72.4 287.9,73.33 287.97,74.16 287.99,74.78 287.92,75.13" fill="#7db777"/>
<polygon points="291.82,74.06 291.88,73.71 291.86,73.09 291.79,72.26 291.69,71.33 291.59,70.4 291.52,69.58 291.5,68.96 291.56,68.61 291.98,68.5 290.15,69 290.28,68.96 290.22,69.31 290.24,69.93 290.31,70.76 290.41,71.69 290.51,72.62 290.58,73.44 290.6,74.06 290.54,74.41" fill="#7db777"/>
<polygon points="294.42,73.34 294.48,72.99 294.46,72.37 294.39,71.55 294.29,70.62 294.19,69.69 294.12,68.86 294.11,68.24 294.17,67.9 294.59,67.78 292.76,68.28 292.89,68.25 292.83,68.6 292.84,69.22 292.91,70.04 293.01,70.97 293.11,71.9 293.18,72.72 293.2,73.34 293.14,73.69" fill="#7db777"/>
<polygon points="297.02,72.63 297.08,72.29 297.06,71.67 297,70.84 296.9,69.91 296.81,68.98 296.74,68.16 296.73,67.54 296.79,67.19 297.22,67.08 295.38,67.57 295.51,67.53 295.44,67.88 295.46,68.5 295.52,69.33 295.62,70.26 295.71,71.19 295.78,72.01 295.79,72.63 295.73,72.98" fill="#7db777"/>
<polygon points="299.61,71.95 299.67,71.6 299.66,70.98 299.6,70.16 299.51,69.23 299.42,68.29 299.37,67.47 299.36,66.85 299.43,66.5 299.85,66.39 298.01,66.87 298.14,66.83 298.08,67.18 298.08,67.8 298.14,68.63 298.22,69.56 298.31,70.49 298.37,71.32 298.38,71.94 298.32,72.29" fill="#7db777"/>
<polygon points="302.19,71.3 302.25,70.95 302.25,70.33 302.21,69.51 302.13,68.57 302.06,67.64 302.02,66.82 302.03,66.2 302.1,65.85 302.52,65.75 300.68,66.19 300.81,66.16 300.74,66.51 300.73,67.13 300.77,67.95 300.84,68.89 300.91,69.82 300.96,70.65 300.96,71.27 300.89,71.62" fill="#7db777"/>
<polygon points="304.77,70.7 304.84,70.35 304.85,69.73 304.82,68.91 304.76,67.98 304.71,67.04 304.68,66.22 304.7,65.6 304.78,65.25 305.2,65.16 303.35,65.57 303.48,65.54 303.4,65.89 303.38,66.51 303.41,67.33 303.47,68.27 303.52,69.2 303.56,70.03 303.54,70.65 303.47,70.99" fill="#7db777"/>
<polygon points="307.38,70.13 307.46,69.79 307.48,69.17 307.45,68.34 307.4,67.41 307.36,66.47 307.33,65.65 307.35,65.03 307.43,64.68 307.86,64.59 306,64.99 306.13,64.96 306.05,65.31 306.03,65.93 306.06,66.75 306.1,67.69 306.15,68.62 306.18,69.45 306.16,70.07 306.08,70.41" fill="#7db777"/>
<polygon points="310.01,69.57 310.09,69.22 310.12,68.6 310.09,67.78 310.04,66.84 310,65.91 309.97,65.08 309.99,64.46 310.07,64.12 310.49,64.02 308.63,64.43 308.77,64.4 308.69,64.74 308.67,65.36 308.7,66.19 308.74,67.12 308.79,68.06 308.82,68.88 308.79,69.5 308.71,69.85" fill="#7db777"/>
<polygon points="312.68,68.98 312.75,68.63 312.77,68.01 312.74,67.19 312.68,66.25 312.62,65.32 312.58,64.49 312.59,63.87 312.67,63.53 313.09,63.43 311.24,63.86 311.37,63.83 311.3,64.17 311.29,64.79 311.32,65.62 311.38,66.55 311.44,67.48 311.47,68.31 311.46,68.93 311.38,69.27" fill="#7db777"/>
<polygon points="315.36,68.34 315.43,67.99 315.43,67.37 315.38,66.54 315.3,65.61 315.22,64.68 315.16,63.85 315.14,63.23 315.19,62.88 315.61,62.77 313.77,63.26 313.9,63.23 313.86,63.57 313.87,64.18 313.93,65.01 314.01,65.94 314.1,66.87 314.14,67.69 314.13,68.31 314.06,68.66" fill="#7db777"/>
<polygon points="318.08,67.57 318.14,67.22 318.11,66.59 318.02,65.76 317.89,64.84 317.75,63.91 317.64,63.09 317.58,62.47 317.61,62.12 318.02,61.98 316.22,62.59 316.35,62.54 316.32,62.89 316.38,63.5 316.48,64.32 316.62,65.24 316.76,66.16 316.84,66.98 316.86,67.6 316.81,67.95" fill="#7db777"/>
<polygon points="320.78,66.62 320.82,66.26 320.76,65.64 320.61,64.83 320.42,63.91 320.23,62.99 320.07,62.18 319.99,61.56 320.01,61.21 320.4,61.05 318.64,61.75 318.77,61.69 318.75,62.05 318.83,62.66 318.99,63.47 319.18,64.38 319.37,65.3 319.51,66.11 319.57,66.73 319.53,67.08" fill="#7db777"/>
<polygon points="323.4,65.55 323.41,65.2 323.32,64.58 323.14,63.77 322.91,62.86 322.69,61.96 322.5,61.15 322.39,60.54 322.4,60.19 322.79,60.01 321.05,60.77 321.18,60.72 321.17,61.07 321.28,61.68 321.46,62.48 321.69,63.39 321.92,64.3 322.09,65.1 322.18,65.72 322.17,66.07" fill="#7db777"/>
<polygon points="325.91,64.44 325.92,64.09 325.81,63.47 325.62,62.67 325.38,61.77 325.15,60.86 324.96,60.06 324.87,59.45 324.89,59.09 325.31,58.92 323.55,59.66 323.67,59.61 323.65,59.98 323.74,60.59 323.93,61.4 324.16,62.31 324.4,63.21 324.6,64.02 324.71,64.63 324.7,64.98" fill="#7db777"/>
<polygon points="257.4,70.51 257.03,71.37 256.69,72.13 256.45,72.71 256.37,73.06 256.24,72.97 255.15,72.21 254.81,71.97 254.88,71.64 255.1,71.09 255.43,70.35 255.8,69.49" fill="#b3e1ac"/>
<polygon points="260.65,69.61 260.58,69.95 260.35,70.53 259.99,71.27 259.58,72.11 259.16,72.95 258.82,73.7 258.6,74.28 258.54,74.62 258.44,74.55 257.35,73.79 256.99,73.53 257.05,73.18 257.27,72.6 257.62,71.84 258.03,71 258.45,70.16 258.81,69.42 259.04,68.84 259.11,68.49" fill="#b3e1ac"/>
<polygon points="262.78,71.03 262.73,71.37 262.52,71.94 262.21,72.71 261.85,73.57 261.5,74.43 261.23,75.2 261.05,75.79 261.03,76.15 260.94,76.09 259.79,75.43 259.39,75.18 259.41,74.82 259.59,74.22 259.88,73.44 260.24,72.56 260.6,71.7 260.91,70.93 261.13,70.34 261.19,70" fill="#b3e1ac"/>
<polygon points="264.9,72.12 264.87,72.44 264.73,73.02 264.53,73.82 264.3,74.71 264.09,75.61 263.94,76.41 263.88,77.03 263.97,77.38 263.89,77.34 262.63,76.9 262.18,76.73 262.11,76.34 262.18,75.71 262.33,74.89 262.55,73.96 262.8,73.04 262.99,72.24 263.15,71.63 263.2,71.28" fill="#b3e1ac"/>
<polygon points="266.99,72.64 267.04,72.98 267.04,73.6 266.99,74.41 266.93,75.33 266.88,76.26 266.86,77.08 266.91,77.7 267,78.04 266.88,78.02 265.58,77.76 265.14,77.67 265.05,77.33 265.01,76.69 265.02,75.85 265.07,74.92 265.14,73.98 265.2,73.15 265.2,72.52 265.14,72.18" fill="#b3e1ac"/>
<polygon points="269.37,72.99 269.48,73.33 269.53,73.94 269.57,74.75 269.61,75.69 269.65,76.62 269.72,77.43 269.82,78.05 269.94,78.38 269.82,78.36 268.5,78.24 268.05,78.19 267.93,77.85 267.83,77.23 267.76,76.4 267.72,75.46 267.68,74.53 267.64,73.7 267.59,73.07 267.49,72.73" fill="#b3e1ac"/>
<polygon points="271.84,73.14 271.97,73.47 272.08,74.07 272.18,74.88 272.3,75.8 272.43,76.73 272.57,77.54 272.72,78.14 272.86,78.46 272.74,78.45 271.41,78.44 270.96,78.43 270.82,78.11 270.67,77.5 270.53,76.67 270.41,75.74 270.29,74.81 270.18,73.99 270.07,73.37 269.94,73.05" fill="#b3e1ac"/>
<polygon points="274.31,73.08 274.47,73.4 274.63,73.99 274.81,74.78 275,75.7 275.2,76.61 275.41,77.4 275.61,77.99 275.78,78.3 275.68,78.3 274.35,78.4 273.89,78.43 273.71,78.12 273.52,77.52 273.31,76.71 273.11,75.8 272.91,74.88 272.73,74.07 272.58,73.46 272.42,73.15" fill="#b3e1ac"/>
<polygon points="276.7,72.78 276.86,73.06 277.08,73.63 277.37,74.4 277.67,75.28 277.99,76.15 278.3,76.91 278.57,77.47 278.81,77.73 278.69,77.75 277.39,78.04 276.95,78.13 276.71,77.84 276.43,77.28 276.12,76.51 275.8,75.62 275.49,74.72 275.21,73.95 274.99,73.36 274.82,73.05" fill="#b3e1ac"/>
<polygon points="279,72.16 279.22,72.43 279.52,72.97 279.88,73.71 280.27,74.55 280.67,75.4 281.04,76.13 281.37,76.66 281.6,76.93 281.48,76.96 280.2,77.34 279.78,77.47 279.54,77.2 279.22,76.66 278.84,75.92 278.45,75.08 278.05,74.23 277.69,73.48 277.39,72.93 277.17,72.66" fill="#b3e1ac"/>
<polygon points="281.5,71.39 281.73,71.65 282.06,72.19 282.44,72.92 282.85,73.76 283.27,74.6 283.64,75.33 283.96,75.87 284.2,76.13 284.07,76.17 282.79,76.56 282.38,76.68 282.14,76.42 281.83,75.88 281.45,75.15 281.04,74.31 280.62,73.47 280.24,72.74 279.92,72.21 279.68,71.95" fill="#b3e1ac"/>
<polygon points="284.15,70.62 284.39,70.89 284.7,71.43 285.06,72.17 285.45,73.03 285.84,73.88 286.19,74.63 286.49,75.18 286.72,75.45 286.58,75.48 285.3,75.82 284.88,75.94 284.66,75.67 284.36,75.12 284,74.38 283.62,73.53 283.23,72.68 282.87,71.94 282.56,71.4 282.32,71.14" fill="#b3e1ac"/>
<polygon points="286.79,69.92 287.02,70.19 287.32,70.74 287.68,71.48 288.06,72.33 288.45,73.19 288.81,73.93 289.11,74.47 289.34,74.74 289.21,74.78 287.92,75.13 287.5,75.24 287.27,74.97 286.97,74.43 286.61,73.68 286.23,72.83 285.84,71.98 285.49,71.23 285.18,70.69 284.96,70.42" fill="#b3e1ac"/>
<polygon points="289.38,69.21 289.61,69.48 289.91,70.02 290.27,70.77 290.66,71.62 291.05,72.47 291.41,73.21 291.72,73.75 291.95,74.02 291.82,74.06 290.54,74.41 290.12,74.53 289.89,74.26 289.58,73.72 289.22,72.97 288.83,72.12 288.44,71.27 288.08,70.53 287.78,69.99 287.55,69.72" fill="#b3e1ac"/>
<polygon points="291.98,68.5 292.21,68.76 292.52,69.31 292.88,70.05 293.27,70.9 293.66,71.75 294.02,72.49 294.32,73.03 294.55,73.3 294.42,73.34 293.14,73.69 292.72,73.81 292.49,73.54 292.19,73 291.83,72.25 291.44,71.4 291.05,70.55 290.68,69.81 290.38,69.27 290.15,69" fill="#b3e1ac"/>
<polygon points="294.59,67.78 294.82,68.05 295.13,68.59 295.48,69.34 295.87,70.19 296.26,71.04 296.62,71.79 296.92,72.33 297.15,72.6 297.02,72.63 295.73,72.98 295.31,73.1 295.08,72.83 294.78,72.28 294.43,71.54 294.04,70.69 293.65,69.84 293.29,69.09 292.99,68.55 292.76,68.28" fill="#b3e1ac"/>
<polygon points="297.22,67.08 297.44,67.35 297.74,67.89 298.1,68.64 298.48,69.49 298.86,70.35 299.21,71.1 299.51,71.64 299.74,71.91 299.61,71.95 298.32,72.29 297.9,72.4 297.67,72.12 297.38,71.58 297.02,70.83 296.64,69.98 296.26,69.13 295.91,68.38 295.61,67.84 295.38,67.57" fill="#b3e1ac"/>
<polygon points="299.85,66.39 300.08,66.67 300.37,67.21 300.72,67.97 301.1,68.83 301.47,69.68 301.81,70.43 302.11,70.98 302.32,71.26 302.19,71.3 300.89,71.62 300.48,71.72 300.26,71.45 299.97,70.9 299.63,70.15 299.25,69.29 298.88,68.43 298.53,67.69 298.24,67.14 298.01,66.87" fill="#b3e1ac"/>
<polygon points="302.52,65.75 302.75,66.03 303.04,66.58 303.37,67.34 303.72,68.21 304.08,69.07 304.41,69.83 304.68,70.39 304.9,70.67 304.77,70.7 303.47,70.99 303.04,71.09 302.83,70.81 302.56,70.26 302.23,69.5 301.87,68.64 301.52,67.77 301.19,67.01 300.9,66.46 300.68,66.19" fill="#b3e1ac"/>
<polygon points="305.2,65.16 305.42,65.44 305.7,66 306.02,66.76 306.36,67.63 306.71,68.5 307.02,69.26 307.3,69.82 307.51,70.1 307.38,70.13 306.08,70.41 305.65,70.5 305.44,70.22 305.17,69.67 304.85,68.9 304.51,68.03 304.16,67.16 303.84,66.4 303.57,65.85 303.35,65.57" fill="#b3e1ac"/>
<polygon points="307.86,64.59 308.07,64.87 308.35,65.43 308.66,66.19 309,67.07 309.34,67.94 309.66,68.7 309.93,69.26 310.15,69.54 310.01,69.57 308.71,69.85 308.29,69.94 308.07,69.66 307.8,69.1 307.48,68.33 307.14,67.46 306.81,66.59 306.49,65.83 306.22,65.27 306,64.99" fill="#b3e1ac"/>
<polygon points="310.49,64.02 310.7,64.3 310.98,64.86 311.3,65.62 311.64,66.49 311.99,67.36 312.31,68.12 312.58,68.68 312.8,68.96 312.68,68.98 311.38,69.27 310.95,69.37 310.73,69.09 310.45,68.53 310.13,67.77 309.79,66.9 309.44,66.03 309.12,65.26 308.85,64.71 308.63,64.43" fill="#b3e1ac"/>
<polygon points="313.09,63.43 313.3,63.71 313.58,64.26 313.91,65.01 314.27,65.88 314.63,66.74 314.97,67.49 315.26,68.04 315.49,68.31 315.36,68.34 314.06,68.66 313.64,68.76 313.42,68.49 313.12,67.94 312.78,67.18 312.42,66.32 312.06,65.45 311.73,64.7 311.45,64.14 311.24,63.86" fill="#b3e1ac"/>
<polygon points="315.61,62.77 315.84,63.04 316.13,63.58 316.48,64.32 316.87,65.17 317.27,66.01 317.64,66.75 317.96,67.28 318.21,67.53 318.08,67.57 316.81,67.95 316.39,68.08 316.14,67.81 315.81,67.27 315.44,66.53 315.05,65.68 314.65,64.83 314.3,64.08 314,63.53 313.77,63.26" fill="#b3e1ac"/>
<polygon points="318.02,61.98 318.26,62.24 318.58,62.76 318.98,63.47 319.43,64.3 319.88,65.12 320.3,65.82 320.65,66.33 320.91,66.58 320.78,66.62 319.53,67.08 319.12,67.23 318.87,66.98 318.51,66.46 318.09,65.75 317.64,64.93 317.19,64.1 316.79,63.38 316.46,62.84 316.22,62.59" fill="#b3e1ac"/>
<polygon points="320.4,61.05 320.65,61.29 321.01,61.8 321.45,62.49 321.94,63.29 322.43,64.08 322.88,64.78 323.25,65.27 323.52,65.51 323.4,65.55 322.17,66.07 321.76,66.24 321.49,66 321.12,65.5 320.67,64.81 320.18,64.01 319.69,63.2 319.25,62.51 318.89,62 318.64,61.75" fill="#b3e1ac"/>
<polygon points="322.79,60.01 323.05,60.25 323.43,60.74 323.9,61.42 324.41,62.2 324.92,62.98 325.39,63.66 325.77,64.15 326.04,64.38 325.91,64.44 324.7,64.98 324.3,65.16 324.04,64.93 323.65,64.44 323.18,63.76 322.67,62.97 322.16,62.19 321.7,61.5 321.32,61.01 321.05,60.77" fill="#b3e1ac"/>
<polygon points="325.31,58.92 325.59,59.16 325.97,59.66 324.21,60.37 323.83,59.88 323.55,59.66" fill="#b3e1ac"/>
<polygon points="289.57,63.46 289.6,63.11 289.52,62.52 289.37,61.73 289.17,60.85 288.98,59.97 288.82,59.19 288.74,58.6 288.77,58.25 289.17,58.09 287.41,58.8 287.53,58.75 287.51,59.1 287.59,59.69 287.74,60.47 287.94,61.35 288.13,62.23 288.29,63.01 288.36,63.61 288.33,63.95" fill="#7db777"/>
<polygon points="292.06,62.46 292.08,62.12 292.01,61.52 291.86,60.74 291.68,59.86 291.5,58.98 291.36,58.2 291.3,57.6 291.34,57.26 291.74,57.1 289.97,57.78 290.09,57.73 290.06,58.07 290.12,58.67 290.26,59.46 290.44,60.34 290.63,61.23 290.77,62.01 290.84,62.6 290.82,62.95" fill="#7db777"/>
<polygon points="294.52,61.56 294.55,61.21 294.5,60.62 294.38,59.83 294.22,58.95 294.07,58.06 293.96,57.27 293.92,56.67 293.97,56.33 294.38,56.19 292.58,56.8 292.71,56.76 292.66,57.1 292.7,57.71 292.82,58.5 292.97,59.39 293.12,60.28 293.25,61.06 293.3,61.66 293.26,62" fill="#7db777"/>
<polygon points="296.99,60.75 297.03,60.41 297,59.81 296.92,59.02 296.8,58.13 296.68,57.24 296.6,56.45 296.58,55.85 296.63,55.51 297.06,55.38 295.24,55.93 295.36,55.89 295.31,56.23 295.33,56.83 295.41,57.62 295.53,58.52 295.65,59.42 295.73,60.21 295.76,60.81 295.72,61.15" fill="#7db777"/>
<polygon points="299.53,60 299.58,59.67 299.56,59.07 299.49,58.28 299.39,57.38 299.29,56.48 299.22,55.69 299.21,55.09 299.27,54.75 299.69,54.63 297.86,55.15 297.99,55.12 297.93,55.46 297.94,56.06 298.01,56.85 298.11,57.75 298.21,58.64 298.29,59.44 298.31,60.04 298.25,60.37" fill="#7db777"/>
<polygon points="302.1,59.28 302.16,58.94 302.15,58.34 302.08,57.55 301.99,56.65 301.9,55.75 301.83,54.96 301.82,54.36 301.88,54.02 302.3,53.91 300.47,54.42 300.6,54.38 300.54,54.72 300.55,55.32 300.61,56.11 300.71,57.01 300.8,57.91 300.87,58.7 300.88,59.3 300.82,59.64" fill="#7db777"/>
<polygon points="304.69,58.56 304.76,58.22 304.75,57.62 304.68,56.83 304.59,55.93 304.5,55.04 304.44,54.24 304.43,53.64 304.5,53.31 304.92,53.19 303.08,53.69 303.21,53.66 303.15,53.99 303.16,54.59 303.22,55.39 303.31,56.29 303.4,57.18 303.46,57.98 303.47,58.58 303.41,58.91" fill="#7db777"/>
<polygon points="307.29,57.85 307.36,57.51 307.35,56.91 307.29,56.12 307.2,55.22 307.11,54.33 307.05,53.53 307.04,52.93 307.1,52.59 307.52,52.48 305.69,52.98 305.82,52.94 305.76,53.28 305.76,53.88 305.83,54.68 305.91,55.57 306,56.47 306.06,57.26 306.07,57.86 306.01,58.2" fill="#7db777"/>
<polygon points="309.9,57.14 309.96,56.8 309.95,56.2 309.89,55.41 309.8,54.51 309.71,53.61 309.65,52.82 309.64,52.22 309.7,51.88 310.11,51.77 308.28,52.28 308.42,52.24 308.36,52.57 308.37,53.17 308.43,53.97 308.52,54.86 308.61,55.76 308.67,56.55 308.68,57.15 308.61,57.49" fill="#7db777"/>
<polygon points="288.19,61.26 288.65,62.04 289.07,62.71 289.43,63.18 289.69,63.41 289.57,63.46 288.33,63.95 287.92,64.11 287.66,63.88 287.3,63.39 286.87,62.72 286.41,61.94" fill="#b3e1ac"/>
<polygon points="289.17,58.09 289.43,58.32 289.79,58.8 290.22,59.47 290.69,60.24 291.16,61.01 291.59,61.69 291.94,62.17 292.19,62.41 292.06,62.46 290.82,62.95 290.42,63.11 290.17,62.87 289.82,62.39 289.39,61.72 288.92,60.95 288.45,60.18 288.02,59.51 287.67,59.03 287.41,58.8" fill="#b3e1ac"/>
<polygon points="291.74,57.1 292,57.34 292.35,57.83 292.76,58.51 293.22,59.29 293.66,60.08 294.07,60.76 294.41,61.26 294.65,61.5 294.52,61.56 293.26,62 292.86,62.15 292.63,61.91 292.29,61.42 291.88,60.73 291.43,59.95 290.98,59.17 290.57,58.49 290.22,58.01 289.97,57.78" fill="#b3e1ac"/>
<polygon points="294.38,56.19 294.63,56.44 294.97,56.94 295.36,57.64 295.78,58.44 296.19,59.24 296.57,59.94 296.89,60.45 297.13,60.7 296.99,60.75 295.72,61.15 295.32,61.28 295.08,61.03 294.76,60.52 294.39,59.83 293.97,59.03 293.55,58.23 293.16,57.54 292.83,57.04 292.58,56.8" fill="#b3e1ac"/>
<polygon points="297.06,55.38 297.3,55.64 297.6,56.15 297.97,56.86 298.37,57.67 298.76,58.48 299.12,59.19 299.43,59.71 299.66,59.96 299.53,60 298.25,60.37 297.83,60.5 297.6,60.24 297.3,59.73 296.94,59.02 296.54,58.21 296.15,57.4 295.78,56.69 295.47,56.18 295.24,55.93" fill="#b3e1ac"/>
<polygon points="299.69,54.63 299.92,54.89 300.22,55.41 300.58,56.12 300.96,56.94 301.35,57.75 301.71,58.46 302.01,58.98 302.23,59.24 302.1,59.28 300.82,59.64 300.41,59.75 300.18,59.5 299.88,58.98 299.52,58.27 299.14,57.45 298.75,56.64 298.39,55.93 298.09,55.41 297.86,55.15" fill="#b3e1ac"/>
<polygon points="302.3,53.91 302.53,54.16 302.83,54.68 303.18,55.4 303.57,56.22 303.95,57.03 304.3,57.75 304.6,58.27 304.83,58.52 304.69,58.56 303.41,58.91 302.99,59.03 302.77,58.77 302.47,58.25 302.12,57.54 301.73,56.72 301.35,55.9 301,55.19 300.7,54.67 300.47,54.42" fill="#b3e1ac"/>
<polygon points="304.92,53.19 305.14,53.45 305.44,53.97 305.79,54.68 306.17,55.5 306.55,56.32 306.9,57.04 307.2,57.56 307.42,57.82 307.29,57.85 306.01,58.2 305.59,58.32 305.36,58.06 305.07,57.54 304.72,56.82 304.34,56 303.96,55.19 303.61,54.47 303.31,53.95 303.08,53.69" fill="#b3e1ac"/>
<polygon points="307.52,52.48 307.75,52.74 308.05,53.26 308.4,53.97 308.78,54.79 309.15,55.61 309.5,56.33 309.8,56.85 310.03,57.11 309.9,57.14 308.61,57.49 308.2,57.61 307.97,57.35 307.67,56.83 307.32,56.11 306.94,55.29 306.56,54.47 306.21,53.76 305.92,53.24 305.69,52.98" fill="#b3e1ac"/>
<polygon points="310.11,51.77 310.34,52.02 310.64,52.54 308.81,53.05 308.51,52.53 308.28,52.28" fill="#b3e1ac"/>
<path d="M300.2,160.2C300.67,159.15 302.77,155.88 303,153.9C303.23,151.92 301.37,150.17 301.6,148.3C301.83,146.43 303.47,144.48 304.4,142.7C305.33,140.92 305.57,138.78 307.2,137.6C308.83,136.42 312.32,135.58 314.2,135.6C316.08,135.62 317.55,136.3 318.5,137.7C319.45,139.1 319.9,142 319.9,144C319.9,146 319.68,147.82 318.5,149.7C317.32,151.58 314.22,154.13 312.8,155.3C311.38,156.47 310.47,156.47 310,156.7" fill="none" stroke="#8485ad" stroke-width="0.65" stroke-linejoin="round" stroke-linecap="round"/>
<path d="M279.8,175C278.98,174.77 276.42,173.37 274.9,173.6C273.38,173.83 272.58,175.7 270.7,176.4C268.82,177.1 265.25,176.87 263.6,177.8C261.95,178.73 260.8,180.6 260.8,182C260.8,183.4 261.72,185.5 263.6,186.2C265.48,186.9 269.75,185.48 272.1,186.2C274.45,186.92 275.6,189.78 277.7,190.5C279.8,191.22 282.83,191.68 284.7,190.5C286.57,189.32 287.25,185.28 288.9,183.4C290.55,181.52 292.72,179.52 294.6,179.2C296.48,178.88 298.3,180.37 300.2,181.5C302.1,182.63 305.03,185.25 306,186" fill="none" stroke="#8485ad" stroke-width="0.65" stroke-linejoin="round" stroke-linecap="round"/>
<path d="M286.1,189C285.87,189.92 285.13,193.08 284.7,194.5C284.27,195.92 284.43,196.77 283.5,197.5C282.57,198.23 279.83,198.67 279.1,198.9" fill="none" stroke="#8485ad" stroke-width="0.65" stroke-linejoin="round" stroke-linecap="round"/>
<path d="M286.26,180.96C287.51,180.49 291.1,177.99 293.76,178.14C296.42,178.3 299.39,180.02 302.2,181.89C305.02,183.77 307.83,187.99 310.65,189.4C313.46,190.81 316.28,190.65 319.09,190.34C321.9,190.03 326.13,187.99 327.53,187.52" fill="none" stroke="#8485ad" stroke-width="0.6" stroke-linejoin="round" stroke-linecap="round"/>
<path d="M283.44,178.14C284.38,179.39 286.88,184.08 289.07,185.65C291.26,187.21 293.76,186.59 296.58,187.52C299.39,188.46 304.39,190.65 305.96,191.28" fill="none" stroke="#8485ad" stroke-width="0.6" stroke-linejoin="round" stroke-linecap="round"/>
<path d="M290.95,171.58C291.26,172.67 291.89,176.11 292.82,178.14C293.76,180.18 294.86,182.36 296.58,183.77C298.3,185.18 302.05,186.12 303.14,186.59" fill="none" stroke="#8485ad" stroke-width="0.6" stroke-linejoin="round" stroke-linecap="round"/>
<path d="M310.65,158.44C311.27,158.91 312.99,160.94 314.4,161.26C315.81,161.57 317.53,160.16 319.09,160.32C320.65,160.48 322.37,161.57 323.78,162.2C325.19,162.82 326.91,163.76 327.53,164.07" fill="none" stroke="#8485ad" stroke-width="0.6" stroke-linejoin="round" stroke-linecap="round"/>
<path d="M305.96,165.01C306.43,164.07 308.07,160.71 308.77,159.38C309.47,158.05 309.94,157.43 310.18,157.04" fill="none" stroke="#8485ad" stroke-width="0.6" stroke-linejoin="round" stroke-linecap="round"/>
<path d="M331.29,177.2C331.68,176.42 333.08,173.92 333.63,172.51C334.18,171.11 334.8,169.47 334.57,168.76C334.33,168.06 332.93,167.75 332.22,168.29C331.52,168.84 331.13,171.34 330.35,172.05C329.57,172.75 328.31,172.9 327.53,172.51C326.75,172.12 325.97,170.17 325.66,169.7" fill="none" stroke="#8485ad" stroke-width="0.6" stroke-linejoin="round" stroke-linecap="round"/>
<path d="M320.97,183.77C320.65,184.24 320.18,185.96 319.09,186.59C318,187.21 315.81,187.68 314.4,187.52C312.99,187.37 311.27,185.96 310.65,185.65" fill="none" stroke="#8485ad" stroke-width="0.6" stroke-linejoin="round" stroke-linecap="round"/>
<polyline points="279.69,175.33 289.07,168.76 299.86,160.32" fill="none" stroke="#a3a5da" stroke-width="3.3" stroke-linejoin="round" stroke-linecap="round" stroke-linecap="butt"/>
<polyline points="300.33,172.98 305.96,165.01" fill="none" stroke="#5f6098" stroke-width="2.4" stroke-linejoin="round" stroke-linecap="round" stroke-linecap="butt"/>
<polyline points="310.18,157.04 311.4,171.58" fill="none" stroke="#5f6098" stroke-width="2.8" stroke-linejoin="round" stroke-linecap="round" stroke-linecap="butt"/>
<polyline points="318.15,160.79 315.99,175.33" fill="none" stroke="#5f6098" stroke-width="2.8" stroke-linejoin="round" stroke-linecap="round" stroke-linecap="butt"/>
<polyline points="326.59,164.07 321.15,183.77" fill="none" stroke="#5f6098" stroke-width="2.6" stroke-linejoin="round" stroke-linecap="round" stroke-linecap="butt"/>
<polyline points="303.14,180.96 309.71,173.45" fill="none" stroke="#a3a5da" stroke-width="3.0" stroke-linejoin="round" stroke-linecap="round" stroke-linecap="butt"/>
<polyline points="308.77,185.65 316.28,179.08" fill="none" stroke="#a3a5da" stroke-width="3.0" stroke-linejoin="round" stroke-linecap="round" stroke-linecap="butt"/>
<path d="M296.58,194.09C297.98,194.25 302.36,194.84 305.02,195.03C307.68,195.22 310.18,195.61 312.52,195.22C314.87,194.82 317.06,193.81 319.09,192.68C321.12,191.56 323.08,190.1 324.72,188.46C326.36,186.82 327.85,184.71 328.94,182.83C330.03,180.96 330.89,178.14 331.29,177.2" fill="none" stroke="#8f91cc" stroke-width="4.0" stroke-linejoin="round" stroke-linecap="round"/>
<path d="M296.58,193.34C297.98,193.46 302.36,193.96 305.02,194.09C307.68,194.22 310.26,194.48 312.52,194.09C314.79,193.7 316.74,192.84 318.62,191.74C320.5,190.65 322.22,189.09 323.78,187.52C325.34,185.96 326.88,184.08 328,182.36C329.13,180.64 330.11,178.06 330.53,177.2" fill="none" stroke="#a3a5da" stroke-width="2.4" stroke-linejoin="round" stroke-linecap="round"/>
<path d="M268,268 C270,258 285,250 300,252 C318,254 330,268 331,285 C332,298 318,304 305,303 C292,302 276,300 270,292 C264,284 266,276 268,268Z" fill="#f4faf9"/>
<path d="M282.31,265.55C282.58,264.62 283.72,261.86 283.93,259.98C284.14,258.1 282.95,255.09 283.57,254.26C284.18,253.44 286.95,254.89 287.63,255.01" fill="none" stroke="#95b2b0" stroke-width="0.5" stroke-linejoin="round" stroke-linecap="round"/>
<path d="M316.7,272.34C317.09,272.05 319.21,270.82 319.05,270.65C318.89,270.47 317.03,271.39 315.75,271.3C314.48,271.2 312.14,270.28 311.41,270.07" fill="none" stroke="#95b2b0" stroke-width="0.5" stroke-linejoin="round" stroke-linecap="round"/>
<path d="M307.23,278.62C307.05,279.56 306.3,283.8 306.18,284.23C306.05,284.66 306.28,282.17 306.48,281.19C306.67,280.2 307.2,278.81 307.35,278.33" fill="none" stroke="#95b2b0" stroke-width="0.5" stroke-linejoin="round" stroke-linecap="round"/>
<path d="M293.3,274.51C294.22,274.52 297.78,274.04 298.85,274.58C299.91,275.11 298.61,277.3 299.67,277.73C300.72,278.15 304.27,277.22 305.19,277.11" fill="none" stroke="#95b2b0" stroke-width="0.5" stroke-linejoin="round" stroke-linecap="round"/>
<path d="M291.58,298.75C290.79,298.56 287.37,296.84 286.85,297.57C286.34,298.29 288.56,303.11 288.48,303.13C288.39,303.14 286.69,298.56 286.33,297.65" fill="none" stroke="#95b2b0" stroke-width="0.5" stroke-linejoin="round" stroke-linecap="round"/>
<path d="M307.1,272.15C306.77,272.55 305.17,273.76 305.12,274.51C305.07,275.27 306.75,275.59 306.78,276.67C306.82,277.76 305.56,280.32 305.32,281.05" fill="none" stroke="#95b2b0" stroke-width="0.5" stroke-linejoin="round" stroke-linecap="round"/>
<path d="M318.56,278.36C318.25,278.86 316.71,281.53 316.68,281.41C316.66,281.28 318.42,277.6 318.43,277.61C318.44,277.61 317.03,280.8 316.75,281.44" fill="none" stroke="#95b2b0" stroke-width="0.5" stroke-linejoin="round" stroke-linecap="round"/>
<path d="M296.98,275.16C297.4,275.09 299.1,275.73 299.53,274.76C299.95,273.78 298.65,270.11 299.52,269.3C300.39,268.49 303.87,269.79 304.74,269.89" fill="none" stroke="#95b2b0" stroke-width="0.5" stroke-linejoin="round" stroke-linecap="round"/>
<path d="M285.72,289.18C286.17,289.2 287.53,288.42 288.38,289.33C289.24,290.24 290.15,292.94 290.84,294.63C291.53,296.32 292.25,298.68 292.54,299.49" fill="none" stroke="#95b2b0" stroke-width="0.5" stroke-linejoin="round" stroke-linecap="round"/>
<path d="M321.41,268.97C321.06,269.49 320.52,271.7 319.32,272.08C318.11,272.46 314.36,270.87 314.16,271.27C313.97,271.67 317.48,273.95 318.15,274.49" fill="none" stroke="#95b2b0" stroke-width="0.5" stroke-linejoin="round" stroke-linecap="round"/>
<path d="M305.1,259.07C306.04,259.3 309.3,259.85 310.76,260.4C312.22,260.95 314.08,262.68 313.86,262.4C313.65,262.12 310.21,259.35 309.48,258.74" fill="none" stroke="#95b2b0" stroke-width="0.5" stroke-linejoin="round" stroke-linecap="round"/>
<path d="M284.31,295.58C283.74,295.41 281.65,294.27 280.86,294.58C280.08,294.88 279.36,296.71 279.59,297.43C279.82,298.14 281.81,298.61 282.26,298.85" fill="none" stroke="#95b2b0" stroke-width="0.5" stroke-linejoin="round" stroke-linecap="round"/>
<path d="M287.95,257.63C288.19,258.01 288.4,259.58 289.36,259.9C290.32,260.22 293.45,259.29 293.71,259.54C293.98,259.79 291.41,261.08 290.95,261.39" fill="none" stroke="#95b2b0" stroke-width="0.5" stroke-linejoin="round" stroke-linecap="round"/>
<path d="M278.37,267.28C277.74,267.47 274.3,267.87 274.55,268.38C274.81,268.89 278.33,269.86 279.91,270.33C281.49,270.8 283.36,271.05 284.05,271.2" fill="none" stroke="#95b2b0" stroke-width="0.5" stroke-linejoin="round" stroke-linecap="round"/>
<path d="M301.42,273.51C301.31,272.54 301.47,269.32 300.76,267.72C300.05,266.11 297.24,264.1 297.17,263.88C297.09,263.65 299.79,265.96 300.32,266.37" fill="none" stroke="#95b2b0" stroke-width="0.5" stroke-linejoin="round" stroke-linecap="round"/>
<path d="M312.19,293.76C312,294.42 310.33,297.04 311.06,297.69C311.78,298.34 314.95,297.77 316.54,297.66C318.13,297.56 319.91,297.15 320.58,297.05" fill="none" stroke="#95b2b0" stroke-width="0.5" stroke-linejoin="round" stroke-linecap="round"/>
<path d="M276.41,279.31C275.83,279.39 273.91,279.41 272.92,279.77C271.93,280.14 271.57,280.51 270.44,281.49C269.32,282.46 266.89,284.95 266.18,285.65" fill="none" stroke="#95b2b0" stroke-width="0.5" stroke-linejoin="round" stroke-linecap="round"/>
<path d="M316.86,274.04C316.24,274.04 313.3,273.74 313.17,274.05C313.04,274.36 315.42,276.48 316.1,275.89C316.77,275.29 317.02,271.37 317.2,270.46" fill="none" stroke="#95b2b0" stroke-width="0.5" stroke-linejoin="round" stroke-linecap="round"/>
<path d="M283.31,292.22C283.44,291.41 284.4,288.9 284.08,287.35C283.77,285.8 282.41,283.04 281.43,282.93C280.44,282.82 278.72,286.06 278.18,286.68" fill="none" stroke="#95b2b0" stroke-width="0.5" stroke-linejoin="round" stroke-linecap="round"/>
<path d="M294.86,291.02C294.96,290.21 295.63,286.02 295.47,286.14C295.31,286.26 294.6,291.41 293.89,291.73C293.18,292.05 291.66,288.68 291.22,288.07" fill="none" stroke="#95b2b0" stroke-width="0.5" stroke-linejoin="round" stroke-linecap="round"/>
<path d="M315.65,279.05C315.65,279.86 316.5,282.88 315.63,283.9C314.76,284.91 311.82,285.63 310.42,285.14C309.02,284.64 307.77,281.61 307.24,280.91" fill="none" stroke="#95b2b0" stroke-width="0.5" stroke-linejoin="round" stroke-linecap="round"/>
<path d="M286.55,291.21C286.48,290.31 286.74,285.99 286.14,285.82C285.54,285.66 282.91,290.09 282.93,290.23C282.96,290.37 285.73,287.25 286.29,286.65" fill="none" stroke="#95b2b0" stroke-width="0.5" stroke-linejoin="round" stroke-linecap="round"/>
<path d="M323.88,274.81C323.16,274.73 319.82,273.62 319.55,274.32C319.29,275.02 321.19,278.49 322.28,279.01C323.38,279.53 325.49,277.68 326.13,277.41" fill="none" stroke="#95b2b0" stroke-width="0.5" stroke-linejoin="round" stroke-linecap="round"/>
<path d="M290.28,261.69C290.22,261.18 289.82,259.87 289.9,258.62C289.98,257.36 290.95,255.48 290.76,254.17C290.57,252.85 289.09,251.31 288.75,250.74" fill="none" stroke="#95b2b0" stroke-width="0.5" stroke-linejoin="round" stroke-linecap="round"/>
<path d="M281.91,265.09C281.36,264.46 278.67,261.83 278.63,261.29C278.59,260.74 281.88,261.44 281.64,261.82C281.4,262.19 277.93,263.26 277.19,263.54" fill="none" stroke="#95b2b0" stroke-width="0.5" stroke-linejoin="round" stroke-linecap="round"/>
<path d="M302.01,294.58C301.71,294.26 301.05,292.87 300.21,292.64C299.37,292.41 297.04,292.96 296.97,293.22C296.89,293.49 299.3,294.05 299.77,294.21" fill="none" stroke="#95b2b0" stroke-width="0.5" stroke-linejoin="round" stroke-linecap="round"/>
<path d="M294.64,284.08C294.79,284.49 296.03,285.99 295.56,286.54C295.09,287.08 293.02,287.72 291.82,287.36C290.61,287.01 288.91,284.91 288.33,284.41" fill="none" stroke="#95b2b0" stroke-width="0.5" stroke-linejoin="round" stroke-linecap="round"/>
<path d="M299.92,298.43C300.57,298.43 303.3,297.79 303.84,298.44C304.37,299.09 302.58,301.07 303.14,302.32C303.69,303.56 306.52,305.3 307.19,305.89" fill="none" stroke="#95b2b0" stroke-width="0.5" stroke-linejoin="round" stroke-linecap="round"/>
<path d="M296.15,279.53C295.79,279.22 294.95,278.16 294.01,277.68C293.06,277.2 291.91,277.29 290.47,276.64C289.02,276 286.21,274.27 285.35,273.79" fill="none" stroke="#95b2b0" stroke-width="0.5" stroke-linejoin="round" stroke-linecap="round"/>
<path d="M304.13,267.12C304.44,266.39 306,263.11 305.96,262.74C305.93,262.38 304.87,264.99 303.92,264.93C302.96,264.88 300.85,262.82 300.23,262.4" fill="none" stroke="#95b2b0" stroke-width="0.5" stroke-linejoin="round" stroke-linecap="round"/>
<path d="M323.44,272.29C322.96,271.9 320.71,270.59 320.55,269.94C320.4,269.29 321.6,268.17 322.51,268.38C323.42,268.59 325.42,270.73 326,271.19" fill="none" stroke="#95b2b0" stroke-width="0.5" stroke-linejoin="round" stroke-linecap="round"/>
<path d="M292.87,274.31C292.23,273.63 290.13,270.44 289.01,270.23C287.89,270.02 286.55,272 286.16,273.05C285.77,274.1 286.6,275.95 286.68,276.53" fill="none" stroke="#95b2b0" stroke-width="0.5" stroke-linejoin="round" stroke-linecap="round"/>
<path d="M311.51,276.08C312.43,275.85 316.58,275.25 317.03,274.7C317.49,274.15 313.99,273.17 314.22,272.77C314.46,272.36 317.73,272.35 318.43,272.26" fill="none" stroke="#95b2b0" stroke-width="0.5" stroke-linejoin="round" stroke-linecap="round"/>
<path d="M287.53,283.01C288.23,282.94 291.19,281.98 291.73,282.59C292.28,283.2 290.38,285.44 290.79,286.65C291.19,287.87 293.6,289.35 294.16,289.89" fill="none" stroke="#95b2b0" stroke-width="0.5" stroke-linejoin="round" stroke-linecap="round"/>
<path d="M287.28,281.24C287.46,280.36 287.44,276.77 288.35,275.95C289.25,275.13 292.11,275.3 292.69,276.32C293.28,277.33 291.98,281.07 291.83,282.02" fill="none" stroke="#95b2b0" stroke-width="0.5" stroke-linejoin="round" stroke-linecap="round"/>
<path d="M300.01,269.93C299.96,270.43 299.15,272.49 299.68,272.95C300.21,273.42 303.15,273.18 303.19,272.71C303.24,272.23 300.49,270.53 299.95,270.09" fill="none" stroke="#95b2b0" stroke-width="0.5" stroke-linejoin="round" stroke-linecap="round"/>
<path d="M286.36,265.8C286.34,265.31 286.22,263.96 286.24,262.88C286.26,261.81 287.04,260.06 286.48,259.34C285.91,258.62 283.48,258.7 282.88,258.57" fill="none" stroke="#95b2b0" stroke-width="0.5" stroke-linejoin="round" stroke-linecap="round"/>
<path d="M292.98,291.5C292.37,291.64 289.95,292.96 289.31,292.33C288.68,291.71 288.64,288.4 289.17,287.77C289.69,287.14 291.91,288.41 292.46,288.54" fill="none" stroke="#95b2b0" stroke-width="0.5" stroke-linejoin="round" stroke-linecap="round"/>
<path d="M273.58,283.7C274.14,283.22 275.51,281.24 276.94,280.84C278.37,280.45 281.95,280.91 282.14,281.32C282.33,281.73 278.76,282.97 278.08,283.3" fill="none" stroke="#95b2b0" stroke-width="0.5" stroke-linejoin="round" stroke-linecap="round"/>
<path d="M292.91,262.59C291.97,262.7 288.69,262.7 287.26,263.23C285.83,263.77 284.51,265.79 284.35,265.79C284.18,265.79 285.93,263.66 286.25,263.23" fill="none" stroke="#95b2b0" stroke-width="0.5" stroke-linejoin="round" stroke-linecap="round"/>
<path d="M291.18,296.49C292.01,296.86 295.55,298.95 296.15,298.68C296.75,298.42 295.2,294.69 294.78,294.91C294.35,295.13 293.79,299.15 293.59,300" fill="none" stroke="#95b2b0" stroke-width="0.5" stroke-linejoin="round" stroke-linecap="round"/>
<path d="M303.85,275C303.12,275.1 300.81,275.49 299.47,275.6C298.13,275.71 295.99,275.02 295.81,275.65C295.63,276.29 297.97,278.77 298.4,279.39" fill="none" stroke="#95b2b0" stroke-width="0.5" stroke-linejoin="round" stroke-linecap="round"/>
<path d="M299.56,274.89C299.68,275.77 299.92,280.1 300.24,280.21C300.56,280.32 300.45,276.2 301.49,275.55C302.52,274.91 305.62,276.22 306.45,276.36" fill="none" stroke="#95b2b0" stroke-width="0.5" stroke-linejoin="round" stroke-linecap="round"/>
<path d="M324.73,275.07C324.59,274.64 323.76,273.4 323.92,272.52C324.09,271.64 326,271.01 325.71,269.78C325.41,268.56 322.75,265.93 322.15,265.16" fill="none" stroke="#95b2b0" stroke-width="0.5" stroke-linejoin="round" stroke-linecap="round"/>
<path d="M296.45,272.74C296.2,273.66 294.74,276.71 294.94,278.26C295.15,279.8 297.66,281.11 297.67,282C297.69,282.89 295.48,283.32 295.05,283.58" fill="none" stroke="#95b2b0" stroke-width="0.5" stroke-linejoin="round" stroke-linecap="round"/>
<path d="M295.84,276.29C296.33,276.69 297.91,278.1 298.81,278.7C299.71,279.3 301.59,280.07 301.24,279.88C300.89,279.69 297.46,277.95 296.7,277.56" fill="none" stroke="#95b2b0" stroke-width="0.5" stroke-linejoin="round" stroke-linecap="round"/>
<polyline points="291,271 300,266" fill="none" stroke="#4d6b69" stroke-width="1.6" stroke-linejoin="round" stroke-linecap="round" stroke-linecap="butt"/>
<polyline points="291,277 302,273" fill="none" stroke="#4d6b69" stroke-width="1.6" stroke-linejoin="round" stroke-linecap="round" stroke-linecap="butt"/>
<polyline points="293,283 304,279" fill="none" stroke="#4d6b69" stroke-width="1.6" stroke-linejoin="round" stroke-linecap="round" stroke-linecap="butt"/>
<polyline points="298,266 304,258" fill="none" stroke="#4d6b69" stroke-width="1.6" stroke-linejoin="round" stroke-linecap="round" stroke-linecap="butt"/>
<polyline points="300,285 307,280" fill="none" stroke="#4d6b69" stroke-width="1.6" stroke-linejoin="round" stroke-linecap="round" stroke-linecap="butt"/>
<polyline points="296,289 305,287" fill="none" stroke="#4d6b69" stroke-width="1.6" stroke-linejoin="round" stroke-linecap="round" stroke-linecap="butt"/>
<ellipse cx="283.4" cy="252.7" rx="1.86" ry="3" transform="rotate(23.44 283.4 252.7)" fill="#cdeae7" stroke="#4f7f7c" stroke-width="0.6"/>
<ellipse cx="285.79" cy="253.73" rx="1.86" ry="3" transform="rotate(23.54 285.79 253.73)" fill="#cdeae7" stroke="#4f7f7c" stroke-width="0.6"/>
<ellipse cx="288.17" cy="254.78" rx="1.86" ry="3" transform="rotate(23.98 288.17 254.78)" fill="#cdeae7" stroke="#4f7f7c" stroke-width="0.6"/>
<ellipse cx="290.54" cy="255.85" rx="1.86" ry="3" transform="rotate(24.73 290.54 255.85)" fill="#cdeae7" stroke="#4f7f7c" stroke-width="0.6"/>
<ellipse cx="292.89" cy="256.95" rx="1.86" ry="3" transform="rotate(25.31 292.89 256.95)" fill="#cdeae7" stroke="#4f7f7c" stroke-width="0.6"/>
<ellipse cx="295.24" cy="258.07" rx="1.86" ry="3" transform="rotate(25.51 295.24 258.07)" fill="#cdeae7" stroke="#4f7f7c" stroke-width="0.6"/>
<ellipse cx="297.58" cy="259.19" rx="1.86" ry="3" transform="rotate(25.55 297.58 259.19)" fill="#cdeae7" stroke="#4f7f7c" stroke-width="0.6"/>
<ellipse cx="298.8" cy="254.5" rx="1.92" ry="3.1" transform="rotate(20.93 298.8 254.5)" fill="#cdeae7" stroke="#4f7f7c" stroke-width="0.6"/>
<ellipse cx="301.23" cy="255.43" rx="1.92" ry="3.1" transform="rotate(21.01 301.23 255.43)" fill="#cdeae7" stroke="#4f7f7c" stroke-width="0.6"/>
<ellipse cx="303.65" cy="256.36" rx="1.92" ry="3.1" transform="rotate(21.54 303.65 256.36)" fill="#cdeae7" stroke="#4f7f7c" stroke-width="0.6"/>
<ellipse cx="306.07" cy="257.34" rx="1.92" ry="3.1" transform="rotate(22.65 306.07 257.34)" fill="#cdeae7" stroke="#4f7f7c" stroke-width="0.6"/>
<ellipse cx="308.45" cy="258.37" rx="1.92" ry="3.1" transform="rotate(22.48 308.45 258.37)" fill="#cdeae7" stroke="#4f7f7c" stroke-width="0.6"/>
<ellipse cx="310.87" cy="259.33" rx="1.92" ry="3.1" transform="rotate(22.27 310.87 259.33)" fill="#cdeae7" stroke="#4f7f7c" stroke-width="0.6"/>
<ellipse cx="313.26" cy="260.34" rx="1.92" ry="3.1" transform="rotate(25.57 313.26 260.34)" fill="#cdeae7" stroke="#4f7f7c" stroke-width="0.6"/>
<ellipse cx="315.55" cy="261.57" rx="1.92" ry="3.1" transform="rotate(32.95 315.55 261.57)" fill="#cdeae7" stroke="#4f7f7c" stroke-width="0.6"/>
<ellipse cx="317.61" cy="263.15" rx="1.92" ry="3.1" transform="rotate(41.78 317.61 263.15)" fill="#cdeae7" stroke="#4f7f7c" stroke-width="0.6"/>
<ellipse cx="319.42" cy="265.02" rx="1.92" ry="3.1" transform="rotate(48.76 319.42 265.02)" fill="#cdeae7" stroke="#4f7f7c" stroke-width="0.6"/>
<ellipse cx="321.03" cy="267.06" rx="1.92" ry="3.1" transform="rotate(53.83 321.03 267.06)" fill="#cdeae7" stroke="#4f7f7c" stroke-width="0.6"/>
<ellipse cx="322.48" cy="269.21" rx="1.92" ry="3.1" transform="rotate(57.84 322.48 269.21)" fill="#cdeae7" stroke="#4f7f7c" stroke-width="0.6"/>
<ellipse cx="323.8" cy="271.45" rx="1.92" ry="3.1" transform="rotate(61.58 323.8 271.45)" fill="#cdeae7" stroke="#4f7f7c" stroke-width="0.6"/>
<ellipse cx="324.96" cy="273.78" rx="1.92" ry="3.1" transform="rotate(65.75 324.96 273.78)" fill="#cdeae7" stroke="#4f7f7c" stroke-width="0.6"/>
<ellipse cx="325.93" cy="276.19" rx="1.92" ry="3.1" transform="rotate(69.15 325.93 276.19)" fill="#cdeae7" stroke="#4f7f7c" stroke-width="0.6"/>
<ellipse cx="326.81" cy="278.64" rx="1.92" ry="3.1" transform="rotate(70.99 326.81 278.64)" fill="#cdeae7" stroke="#4f7f7c" stroke-width="0.6"/>
<ellipse cx="327.62" cy="281.11" rx="1.92" ry="3.1" transform="rotate(71.9 327.62 281.11)" fill="#cdeae7" stroke="#4f7f7c" stroke-width="0.6"/>
<ellipse cx="328.42" cy="283.58" rx="1.92" ry="3.1" transform="rotate(72.16 328.42 283.58)" fill="#cdeae7" stroke="#4f7f7c" stroke-width="0.6"/>
<ellipse cx="263.6" cy="264" rx="1.92" ry="3.1" transform="rotate(45.25 263.6 264)" fill="#cdeae7" stroke="#4f7f7c" stroke-width="0.6"/>
<ellipse cx="265.43" cy="265.85" rx="1.92" ry="3.1" transform="rotate(45.25 265.43 265.85)" fill="#cdeae7" stroke="#4f7f7c" stroke-width="0.6"/>
<ellipse cx="267.26" cy="267.69" rx="1.92" ry="3.1" transform="rotate(45.25 267.26 267.69)" fill="#cdeae7" stroke="#4f7f7c" stroke-width="0.6"/>
<ellipse cx="269.09" cy="269.54" rx="1.92" ry="3.1" transform="rotate(45.25 269.09 269.54)" fill="#cdeae7" stroke="#4f7f7c" stroke-width="0.6"/>
<ellipse cx="270.92" cy="271.39" rx="1.92" ry="3.1" transform="rotate(45.25 270.92 271.39)" fill="#cdeae7" stroke="#4f7f7c" stroke-width="0.6"/>
<ellipse cx="272.75" cy="273.23" rx="1.92" ry="3.1" transform="rotate(45.25 272.75 273.23)" fill="#cdeae7" stroke="#4f7f7c" stroke-width="0.6"/>
<ellipse cx="274.58" cy="275.08" rx="1.92" ry="3.1" transform="rotate(45.25 274.58 275.08)" fill="#cdeae7" stroke="#4f7f7c" stroke-width="0.6"/>
<ellipse cx="276.41" cy="276.93" rx="1.92" ry="3.1" transform="rotate(45.25 276.41 276.93)" fill="#cdeae7" stroke="#4f7f7c" stroke-width="0.6"/>
<ellipse cx="278.24" cy="278.77" rx="1.92" ry="3.1" transform="rotate(45.25 278.24 278.77)" fill="#cdeae7" stroke="#4f7f7c" stroke-width="0.6"/>
<ellipse cx="280.07" cy="280.62" rx="1.92" ry="3.1" transform="rotate(45.25 280.07 280.62)" fill="#cdeae7" stroke="#4f7f7c" stroke-width="0.6"/>
<ellipse cx="281.9" cy="282.46" rx="1.92" ry="3.1" transform="rotate(45.25 281.9 282.46)" fill="#cdeae7" stroke="#4f7f7c" stroke-width="0.6"/>
<ellipse cx="283.73" cy="284.31" rx="1.92" ry="3.1" transform="rotate(45.25 283.73 284.31)" fill="#cdeae7" stroke="#4f7f7c" stroke-width="0.6"/>
<ellipse cx="285.57" cy="286.16" rx="1.92" ry="3.1" transform="rotate(45.25 285.57 286.16)" fill="#cdeae7" stroke="#4f7f7c" stroke-width="0.6"/>
<ellipse cx="278.9" cy="263" rx="1.8" ry="2.9" transform="rotate(74.04 278.9 263)" fill="#cdeae7" stroke="#4f7f7c" stroke-width="0.6"/>
<ellipse cx="279.62" cy="265.5" rx="1.8" ry="2.9" transform="rotate(74.29 279.62 265.5)" fill="#cdeae7" stroke="#4f7f7c" stroke-width="0.6"/>
<ellipse cx="280.31" cy="268.01" rx="1.8" ry="2.9" transform="rotate(75.54 280.31 268.01)" fill="#cdeae7" stroke="#4f7f7c" stroke-width="0.6"/>
<ellipse cx="280.91" cy="270.53" rx="1.8" ry="2.9" transform="rotate(78.1 280.91 270.53)" fill="#cdeae7" stroke="#4f7f7c" stroke-width="0.6"/>
<ellipse cx="281.38" cy="273.09" rx="1.8" ry="2.9" transform="rotate(80.31 281.38 273.09)" fill="#cdeae7" stroke="#4f7f7c" stroke-width="0.6"/>
<ellipse cx="281.79" cy="275.66" rx="1.8" ry="2.9" transform="rotate(80.98 281.79 275.66)" fill="#cdeae7" stroke="#4f7f7c" stroke-width="0.6"/>
<ellipse cx="285.4" cy="295.8" rx="2.4" ry="3" transform="rotate(-4.93 285.4 295.8)" fill="#cdeae7" stroke="#4f7f7c" stroke-width="0.6"/>
<ellipse cx="288.09" cy="295.57" rx="2.4" ry="3" transform="rotate(-5.08 288.09 295.57)" fill="#cdeae7" stroke="#4f7f7c" stroke-width="0.6"/>
<ellipse cx="290.78" cy="295.32" rx="2.4" ry="3" transform="rotate(-5.59 290.78 295.32)" fill="#cdeae7" stroke="#4f7f7c" stroke-width="0.6"/>
<ellipse cx="293.46" cy="295.04" rx="2.4" ry="3" transform="rotate(-6.09 293.46 295.04)" fill="#cdeae7" stroke="#4f7f7c" stroke-width="0.6"/>
<ellipse cx="296.15" cy="294.75" rx="2.4" ry="3" transform="rotate(-6.25 296.15 294.75)" fill="#cdeae7" stroke="#4f7f7c" stroke-width="0.6"/>
<ellipse cx="308" cy="301.5" rx="1.8" ry="2.9" transform="rotate(-64.98 308 301.5)" fill="#cdeae7" stroke="#4f7f7c" stroke-width="0.6"/>
<ellipse cx="309.1" cy="299.14" rx="1.8" ry="2.9" transform="rotate(-65.06 309.1 299.14)" fill="#cdeae7" stroke="#4f7f7c" stroke-width="0.6"/>
<ellipse cx="310.19" cy="296.78" rx="1.8" ry="2.9" transform="rotate(-65.47 310.19 296.78)" fill="#cdeae7" stroke="#4f7f7c" stroke-width="0.6"/>
<ellipse cx="311.26" cy="294.41" rx="1.8" ry="2.9" transform="rotate(-66.21 311.26 294.41)" fill="#cdeae7" stroke="#4f7f7c" stroke-width="0.6"/>
<ellipse cx="312.29" cy="292.03" rx="1.8" ry="2.9" transform="rotate(-66.81 312.29 292.03)" fill="#cdeae7" stroke="#4f7f7c" stroke-width="0.6"/>
<ellipse cx="313.31" cy="289.63" rx="1.8" ry="2.9" transform="rotate(-66.98 313.31 289.63)" fill="#cdeae7" stroke="#4f7f7c" stroke-width="0.6"/>
<ellipse cx="306" cy="282" rx="1.49" ry="2.4" transform="rotate(55.01 306 282)" fill="#cdeae7" stroke="#4f7f7c" stroke-width="0.6"/>
<ellipse cx="307.38" cy="283.97" rx="1.49" ry="2.4" transform="rotate(55.01 307.38 283.97)" fill="#cdeae7" stroke="#4f7f7c" stroke-width="0.6"/>
<ellipse cx="308.75" cy="285.93" rx="1.49" ry="2.4" transform="rotate(55.01 308.75 285.93)" fill="#cdeae7" stroke="#4f7f7c" stroke-width="0.6"/>
<filter id="tx" x="0" y="0" width="100%" height="100%" color-interpolation-filters="sRGB"><feTurbulence type="fractalNoise" baseFrequency="0.38" numOctaves="3" seed="4" result="n"/><feColorMatrix in="n" type="matrix" values="0 0 0 0 0  0 0 0 0 0  0 0 0 0 0  -1.4 0 0 0 0.66" result="dk"/><feComposite in="dk" in2="SourceGraphic" operator="in" result="dk2"/><feColorMatrix in="n" type="matrix" values="0 0 0 0 1  0 0 0 0 1  0 0 0 0 1  2.2 0 0 0 -1.0" result="lt"/><feComposite in="lt" in2="SourceGraphic" operator="in" result="lt2"/><feMerge><feMergeNode in="SourceGraphic"/><feMergeNode in="dk2"/><feMergeNode in="lt2"/></feMerge></filter>
<path d="M426.85,36.18C427.47,35.73 428.44,35.6 429.27,35.42C430.11,35.24 431.09,35.43 431.86,35.09C432.63,34.75 433.16,33.81 433.9,33.39C434.63,32.96 435.5,32.74 436.27,32.52C437.04,32.29 437.8,32.33 438.5,32.03C439.2,31.73 439.77,30.94 440.49,30.71C441.21,30.48 442.02,30.68 442.84,30.65C443.65,30.62 444.52,30.57 445.36,30.55C446.21,30.53 447,30.77 447.9,30.53C448.8,30.28 449.99,29.06 450.74,29.08C451.49,29.1 451.78,30.23 452.41,30.65C453.04,31.06 454,31.09 454.5,31.58C455,32.07 455.14,32.9 455.43,33.6C455.72,34.29 455.83,35.06 456.26,35.73C456.69,36.39 457.88,36.93 458.01,37.59C458.14,38.26 457.34,38.93 457.03,39.7C456.71,40.48 456.34,41.35 456.12,42.22C455.9,43.09 455.92,44.05 455.71,44.92C455.49,45.78 455.11,46.53 454.85,47.41C454.59,48.28 454.46,49.3 454.15,50.18C453.84,51.05 453.53,51.93 452.96,52.65C452.4,53.38 451.23,53.77 450.76,54.52C450.29,55.27 450.42,56.35 450.15,57.15C449.89,57.95 449.48,58.59 449.18,59.32C448.88,60.06 448.54,60.78 448.34,61.54C448.13,62.31 448.26,63.19 447.95,63.92C447.64,64.65 446.83,65.22 446.46,65.92C446.09,66.62 445.88,67.31 445.75,68.13C445.62,68.94 445.49,69.96 445.67,70.8C445.86,71.64 446.59,72.32 446.86,73.16C447.14,74 446.92,75.11 447.34,75.84C447.77,76.56 448.78,76.9 449.4,77.53C450.02,78.16 450.44,79 451.07,79.62C451.69,80.23 452.41,81.04 453.14,81.21C453.88,81.38 454.66,80.57 455.46,80.65C456.26,80.74 457.13,81.57 457.93,81.71C458.73,81.84 459.49,81.6 460.28,81.47C461.06,81.34 461.87,81.15 462.65,80.95C463.43,80.74 464.2,80.56 464.95,80.24C465.7,79.93 466.4,79.38 467.16,79.08C467.91,78.79 468.65,78.62 469.47,78.46C470.29,78.3 471.15,78.01 472.08,78.13C473.02,78.25 474.22,78.6 475.07,79.19C475.93,79.77 476.43,81.01 477.23,81.65C478.03,82.29 479.13,82.38 479.85,83.03C480.56,83.67 480.78,84.88 481.51,85.51C482.25,86.14 483.75,86.18 484.28,86.8C484.81,87.42 484.37,88.55 484.67,89.25C484.98,89.95 485.43,90.39 486.09,91.01C486.75,91.64 488.5,92.31 488.63,93C488.77,93.7 487.49,94.57 486.9,95.16C486.31,95.74 485.79,96.17 485.11,96.5C484.42,96.82 483.54,97.18 482.79,97.1C482.04,97.02 481.37,96.04 480.62,96C479.86,95.95 479.05,96.65 478.28,96.85C477.5,97.06 476.71,97.38 475.98,97.25C475.25,97.12 474.61,96.52 473.89,96.09C473.18,95.66 472.5,94.97 471.67,94.67C470.84,94.38 469.79,94.53 468.91,94.32C468.04,94.11 467.2,93.86 466.42,93.44C465.64,93.03 464.78,92.51 464.22,91.84C463.66,91.16 463.61,90.02 463.07,89.4C462.52,88.78 461.69,88.42 460.95,88.12C460.22,87.82 459.51,87.8 458.67,87.59C457.82,87.39 456.76,87.06 455.89,86.89C455.03,86.73 454.34,86.42 453.47,86.62C452.61,86.82 451.75,87.79 450.69,88.09C449.64,88.39 447.92,87.91 447.15,88.41C446.37,88.91 446.63,90.4 446.06,91.08C445.48,91.75 444.39,91.89 443.7,92.47C443.01,93.04 442.61,93.99 441.92,94.51C441.22,95.03 440.38,95.46 439.53,95.58C438.67,95.71 437.69,95.04 436.79,95.26C435.89,95.48 434.88,96.93 434.13,96.91C433.38,96.88 433.03,95.43 432.3,95.12C431.57,94.81 430.51,95.31 429.74,95.05C428.98,94.79 428.37,94.13 427.71,93.57C427.05,93.01 426.36,92.36 425.77,91.69C425.19,91.01 424.58,90.36 424.21,89.51C423.85,88.67 423.98,87.41 423.57,86.63C423.16,85.85 422.36,85.51 421.77,84.85C421.17,84.18 420.28,83.5 419.99,82.66C419.7,81.82 420.37,80.66 420.03,79.79C419.69,78.92 418.15,78.2 417.93,77.43C417.71,76.66 418.38,75.89 418.73,75.15C419.07,74.41 419.78,73.73 420.01,72.97C420.24,72.2 420.16,71.38 420.1,70.55C420.04,69.71 419.34,68.69 419.63,67.95C419.92,67.2 421.6,66.83 421.87,66.06C422.13,65.29 421.21,64.16 421.23,63.31C421.26,62.47 421.62,61.76 422.01,60.99C422.41,60.22 423.56,59.43 423.61,58.67C423.67,57.92 422.66,57.24 422.36,56.49C422.07,55.73 422.07,54.92 421.84,54.15C421.6,53.39 421.19,52.71 420.97,51.89C420.76,51.06 420.37,50.04 420.54,49.21C420.72,48.38 421.77,47.75 422.03,46.92C422.28,46.1 421.85,45.1 422.06,44.27C422.27,43.45 422.93,42.72 423.28,41.99C423.64,41.25 423.81,40.53 424.19,39.88C424.57,39.23 425.12,38.7 425.56,38.09C426.01,37.47 426.24,36.62 426.85,36.18Z" fill="#a2a8e0" stroke="#a2a8e0" stroke-width="1.6" stroke-linejoin="round" filter="url(#tx)"/>
<path d="M456.89,41.84C457.58,41.36 458.55,41.47 459.35,41.21C460.16,40.95 460.98,40.74 461.71,40.29C462.43,39.83 462.98,38.97 463.7,38.47C464.42,37.97 465.22,37.5 466.03,37.29C466.84,37.08 467.76,37.37 468.57,37.21C469.37,37.05 470.04,36.45 470.86,36.34C471.68,36.23 472.68,36.67 473.48,36.56C474.28,36.45 474.91,35.84 475.67,35.66C476.42,35.49 477.23,35.54 478.01,35.5C478.79,35.46 479.57,35.41 480.36,35.42C481.14,35.44 481.87,35.72 482.7,35.61C483.53,35.5 484.52,34.6 485.33,34.75C486.15,34.89 486.77,36.05 487.6,36.47C488.43,36.89 489.61,36.82 490.32,37.28C491.03,37.74 491.23,38.49 491.84,39.23C492.44,39.97 493.72,40.78 493.95,41.71C494.19,42.65 493.04,43.85 493.24,44.82C493.45,45.8 495.08,46.76 495.19,47.58C495.3,48.4 494.05,48.99 493.9,49.74C493.76,50.48 494.32,51.28 494.34,52.04C494.37,52.8 494.25,53.54 494.04,54.28C493.82,55.02 493.01,55.71 493.06,56.47C493.12,57.23 494.19,58.07 494.35,58.86C494.52,59.65 494.39,60.44 494.04,61.19C493.7,61.95 492.49,62.62 492.28,63.39C492.07,64.16 492.61,64.96 492.77,65.81C492.93,66.65 493.59,67.74 493.21,68.48C492.83,69.22 491.16,69.54 490.52,70.26C489.87,70.98 489.57,71.79 489.33,72.8C489.1,73.8 489.61,75.57 489.11,76.28C488.62,76.99 487.2,76.62 486.36,77.03C485.52,77.44 484.93,78.29 484.09,78.75C483.25,79.2 482.15,79.67 481.29,79.75C480.44,79.82 479.73,79.15 478.95,79.19C478.17,79.24 477.39,80.04 476.6,80.01C475.82,79.99 475.01,79.03 474.26,79.05C473.51,79.08 472.89,79.93 472.11,80.19C471.33,80.45 470.45,80.62 469.56,80.61C468.67,80.59 467.63,79.97 466.77,80.11C465.92,80.25 465.24,81.19 464.43,81.46C463.62,81.74 462.77,81.7 461.93,81.74C461.08,81.79 460.22,81.65 459.38,81.74C458.55,81.83 457.73,82.31 456.89,82.26C456.05,82.22 455.21,81.67 454.33,81.48C453.45,81.29 452.37,81.51 451.6,81.14C450.84,80.76 450.21,79.99 449.76,79.23C449.31,78.46 449.25,77.4 448.9,76.53C448.55,75.66 448.16,74.78 447.66,74.02C447.17,73.26 446.21,72.76 445.93,71.98C445.66,71.2 445.9,70.2 446.02,69.34C446.14,68.48 446.36,67.64 446.66,66.84C446.96,66.04 447.43,65.35 447.83,64.55C448.23,63.75 448.79,62.95 449.05,62.04C449.32,61.13 449.11,59.97 449.4,59.09C449.7,58.2 450.4,57.52 450.83,56.73C451.26,55.93 451.59,55.11 451.98,54.31C452.37,53.5 452.73,52.69 453.17,51.9C453.61,51.11 454.3,50.42 454.61,49.59C454.92,48.75 454.94,47.8 455.03,46.89C455.12,45.97 454.86,44.93 455.17,44.09C455.48,43.25 456.19,42.32 456.89,41.84Z" fill="#e4c291" stroke="#e4c291" stroke-width="1.6" stroke-linejoin="round" filter="url(#tx)"/>
<path d="M449.78,145.41C449.84,144.63 451.15,144.15 451.59,143.42C452.04,142.69 452.19,141.84 452.44,141.04C452.69,140.23 452.89,139.45 453.12,138.59C453.34,137.72 453.26,136.4 453.78,135.85C454.31,135.3 455.63,135.58 456.28,135.27C456.93,134.96 456.94,134.11 457.67,133.97C458.4,133.82 459.68,134.18 460.65,134.4C461.62,134.63 462.86,134.81 463.46,135.32C464.06,135.83 464,136.73 464.25,137.44C464.51,138.15 464.92,138.82 464.98,139.57C465.05,140.32 464.84,141.16 464.64,141.93C464.44,142.7 463.86,143.4 463.79,144.2C463.72,145 464.45,145.96 464.23,146.73C464.01,147.5 462.69,148.03 462.48,148.82C462.28,149.6 463.06,150.58 462.98,151.44C462.91,152.29 462.3,153.08 462.05,153.94C461.79,154.79 461.72,155.87 461.43,156.56C461.13,157.25 460.91,158.07 460.28,158.07C459.65,158.07 458.42,157.12 457.64,156.56C456.87,156 456.23,155.38 455.63,154.72C455.03,154.05 454.66,153.25 454.04,152.58C453.43,151.91 452.4,151.45 451.93,150.7C451.46,149.96 451.59,149 451.23,148.12C450.88,147.24 449.72,146.2 449.78,145.41Z" fill="#e4c291" stroke="#e4c291" stroke-width="1.6" stroke-linejoin="round" filter="url(#tx)"/>
<path d="M460.49,159.06C460.47,158.19 460,156.97 460.05,156.04C460.1,155.11 460.23,154.23 460.79,153.47C461.35,152.7 463.11,152.32 463.41,151.46C463.71,150.6 462.65,149.32 462.6,148.33C462.55,147.33 462.8,146.37 463.12,145.49C463.44,144.61 463.87,143.79 464.53,143.07C465.19,142.35 466.16,141.56 467.1,141.17C468.04,140.77 469.31,141.05 470.18,140.7C471.04,140.35 471.5,139.2 472.29,139.07C473.07,138.93 474.1,140.01 474.89,139.88C475.68,139.75 476.26,138.54 477.01,138.28C477.76,138.02 478.62,138.17 479.4,138.31C480.18,138.46 480.91,139.04 481.69,139.14C482.47,139.24 483.29,138.86 484.08,138.93C484.86,139.01 485.6,139.51 486.38,139.6C487.15,139.68 487.9,139.58 488.73,139.44C489.55,139.3 490.53,138.54 491.3,138.74C492.08,138.95 492.61,140.37 493.36,140.68C494.1,141 494.98,140.64 495.8,140.64C496.63,140.63 497.52,140.51 498.31,140.63C499.11,140.76 499.92,140.91 500.59,141.37C501.25,141.83 501.64,143 502.31,143.4C502.98,143.81 504.22,143.29 504.6,143.8C504.98,144.31 504.45,145.61 504.61,146.45C504.76,147.3 505.31,148.13 505.52,148.88C505.73,149.64 505.84,150.17 505.85,150.97C505.85,151.78 505.81,152.86 505.57,153.73C505.33,154.59 504.73,155.33 504.41,156.14C504.1,156.96 504.07,157.9 503.7,158.6C503.32,159.31 502.86,160.05 502.17,160.38C501.49,160.71 500.25,160.18 499.6,160.59C498.95,161 498.98,162.44 498.3,162.84C497.62,163.24 496.4,162.86 495.5,162.99C494.6,163.12 493.7,163.29 492.89,163.63C492.08,163.98 491.36,164.6 490.62,165.07C489.88,165.54 489.25,166.33 488.46,166.44C487.66,166.54 486.68,165.7 485.87,165.7C485.06,165.7 484.29,166.12 483.58,166.45C482.87,166.78 482.22,167.26 481.6,167.69C480.97,168.13 480.53,168.77 479.85,169.07C479.17,169.38 478.13,169.12 477.51,169.51C476.89,169.91 476.79,171.16 476.11,171.45C475.43,171.73 474.25,170.94 473.45,171.22C472.64,171.5 472.06,172.62 471.28,173.14C470.5,173.67 469.61,173.93 468.77,174.38C467.93,174.82 467.05,175.73 466.25,175.82C465.46,175.9 464.65,175.1 464,174.9C463.34,174.71 462.85,175.13 462.34,174.64C461.83,174.14 461.2,172.86 460.94,171.94C460.67,171.02 460.77,170.06 460.74,169.12C460.72,168.17 460.93,167.14 460.8,166.26C460.68,165.37 460.08,164.65 459.98,163.82C459.88,162.99 460.12,162.04 460.2,161.25C460.29,160.46 460.52,159.93 460.49,159.06Z" fill="#b4b8e9" stroke="#b4b8e9" stroke-width="1.6" stroke-linejoin="round" filter="url(#tx)"/>
<path d="M421.98,179.67C422.3,178.86 422.76,177.85 422.96,177.05C423.15,176.25 422.71,175.47 423.13,174.86C423.55,174.25 424.7,173.5 425.48,173.41C426.26,173.32 427.04,174.22 427.82,174.32C428.61,174.42 429.39,174.04 430.17,174.02C430.95,174 431.71,174.3 432.51,174.21C433.32,174.12 434.18,173.59 435.02,173.49C435.85,173.39 436.68,173.51 437.52,173.6C438.35,173.7 439.18,174.05 440.02,174.06C440.85,174.06 441.69,173.65 442.52,173.65C443.35,173.66 444.2,174.13 445.02,174.07C445.84,174.02 446.62,173.46 447.43,173.31C448.24,173.15 449.05,173.03 449.88,173.15C450.72,173.27 451.62,173.99 452.44,174.01C453.27,174.02 454.02,173.37 454.83,173.23C455.63,173.08 456.47,173.12 457.28,173.13C458.1,173.13 458.77,173.35 459.72,173.26C460.67,173.17 461.95,172.78 463,172.59C464.05,172.39 464.99,172.12 466.03,172.09C467.08,172.05 468.29,172.55 469.26,172.39C470.23,172.23 470.93,171.1 471.85,171.11C472.78,171.13 473.83,172.06 474.81,172.45C475.78,172.84 477.2,172.76 477.71,173.46C478.21,174.15 477.52,175.61 477.85,176.61C478.17,177.62 479.62,178.58 479.65,179.49C479.68,180.4 478.37,181.12 478.04,182.08C477.7,183.04 478.16,184.57 477.65,185.25C477.14,185.93 475.86,185.83 474.98,186.17C474.11,186.51 473.21,186.79 472.41,187.28C471.61,187.77 470.9,188.58 470.16,189.1C469.42,189.62 468.77,190.15 467.97,190.42C467.17,190.69 466.22,190.57 465.36,190.71C464.51,190.85 463.65,190.96 462.86,191.24C462.06,191.52 461.36,192.06 460.62,192.38C459.88,192.71 459.18,193.02 458.43,193.2C457.67,193.37 456.82,193.15 456.09,193.42C455.36,193.68 454.76,194.46 454.04,194.79C453.32,195.11 452.55,195.21 451.79,195.35C451.04,195.5 450.34,195.58 449.52,195.65C448.69,195.72 447.61,195.42 446.84,195.77C446.08,196.11 445.62,197.23 444.91,197.74C444.21,198.25 443.44,198.47 442.62,198.82C441.81,199.16 440.87,199.64 440.02,199.83C439.17,200.02 438.35,199.99 437.52,199.94C436.68,199.89 435.84,199.67 435.02,199.51C434.2,199.36 433.27,199.41 432.6,199.01C431.93,198.61 431.68,197.57 431.01,197.1C430.34,196.64 429.29,196.64 428.57,196.22C427.85,195.79 427.23,195.13 426.69,194.55C426.15,193.97 425.75,193.37 425.32,192.75C424.88,192.14 424.37,191.54 424.09,190.86C423.81,190.18 423.85,189.43 423.62,188.69C423.4,187.95 423.06,187.18 422.75,186.43C422.44,185.68 422.06,184.94 421.77,184.18C421.48,183.43 421,182.65 421.03,181.89C421.07,181.14 421.66,180.47 421.98,179.67Z" fill="#e4c291" stroke="#e4c291" stroke-width="1.6" stroke-linejoin="round" filter="url(#tx)"/>
<path d="M415.01,148.66C415.25,147.86 416.17,147.63 416.45,146.92C416.73,146.2 416.34,144.92 416.72,144.38C417.1,143.84 418.12,144.14 418.73,143.67C419.34,143.21 419.71,141.93 420.38,141.6C421.05,141.27 422.07,141.97 422.76,141.71C423.46,141.44 423.85,140.22 424.54,140.02C425.23,139.81 426.13,140.59 426.9,140.47C427.68,140.35 428.42,139.34 429.21,139.29C429.99,139.24 430.8,140.05 431.59,140.19C432.38,140.33 433.17,140.15 433.94,140.13C434.7,140.12 435.33,140.13 436.19,140.11C437.05,140.08 438.16,139.79 439.1,139.97C440.03,140.14 440.92,140.87 441.79,141.16C442.66,141.45 443.31,141.64 444.32,141.73C445.32,141.83 446.83,141.4 447.83,141.74C448.83,142.08 449.92,142.98 450.31,143.77C450.7,144.56 450.02,145.61 450.16,146.46C450.31,147.31 450.82,148.08 451.17,148.87C451.53,149.66 451.81,150.53 452.29,151.2C452.77,151.88 453.64,152.19 454.05,152.92C454.45,153.64 454.15,154.96 454.71,155.54C455.28,156.12 456.87,155.8 457.46,156.4C458.05,156.99 457.88,158.37 458.24,159.08C458.61,159.8 459.18,160.04 459.67,160.71C460.15,161.38 460.91,162.27 461.14,163.09C461.38,163.91 461.05,164.77 461.09,165.62C461.13,166.47 461.47,167.38 461.38,168.21C461.28,169.05 460.68,169.81 460.52,170.64C460.36,171.47 460.54,172.48 460.39,173.2C460.24,173.92 460.15,174.61 459.61,174.96C459.07,175.3 457.95,174.98 457.16,175.28C456.38,175.57 455.7,176.6 454.89,176.73C454.08,176.87 453.1,175.88 452.29,176.08C451.49,176.28 450.87,177.56 450.08,177.92C449.29,178.29 448.39,178.36 447.54,178.26C446.7,178.15 445.85,177.49 445.01,177.3C444.18,177.11 443.34,177.15 442.51,177.12C441.67,177.09 440.84,177.18 440,177.15C439.17,177.11 438.33,176.89 437.5,176.9C436.66,176.91 435.84,176.96 435,177.2C434.16,177.44 433.22,178.35 432.43,178.32C431.64,178.29 431,177.36 430.25,177.01C429.51,176.66 428.79,176.19 427.97,176.22C427.15,176.26 426.14,177.25 425.33,177.22C424.53,177.19 423.79,176.51 423.12,176.04C422.46,175.56 421.86,174.97 421.35,174.36C420.85,173.75 420.42,173.09 420.09,172.37C419.75,171.65 419.53,170.83 419.35,170.04C419.16,169.24 419.06,168.42 418.97,167.59C418.88,166.77 419.18,165.83 418.79,165.09C418.4,164.36 417,163.92 416.63,163.18C416.27,162.44 416.55,161.57 416.58,160.65C416.6,159.72 416.92,158.57 416.78,157.63C416.64,156.69 416.02,155.96 415.73,154.98C415.44,153.99 415.15,152.78 415.03,151.73C414.91,150.68 414.77,149.47 415.01,148.66Z" fill="#90cc89" stroke="#90cc89" stroke-width="1.6" stroke-linejoin="round" filter="url(#tx)"/>
<path d="M416.73,262.41C416.58,261.64 417.54,261.07 418.02,260.44C418.49,259.8 419.06,259.22 419.59,258.61C420.11,258.01 420.86,257.52 421.17,256.8C421.48,256.08 421.19,255.07 421.44,254.27C421.69,253.46 422.13,252.62 422.67,251.99C423.22,251.36 423.94,250.91 424.69,250.51C425.44,250.11 426.58,250.15 427.19,249.58C427.8,249.01 427.74,247.65 428.34,247.11C428.95,246.57 430.01,246.65 430.8,246.35C431.59,246.04 432.38,245.76 433.09,245.28C433.81,244.8 434.32,243.81 435.09,243.46C435.85,243.12 436.88,243.42 437.7,243.19C438.52,242.97 439.23,242.37 440,242.1C440.77,241.83 441.52,241.57 442.33,241.57C443.15,241.58 444.12,242.38 444.88,242.13C445.65,241.88 446.08,240.49 446.91,240.07C447.74,239.65 449.2,239.24 449.86,239.59C450.51,239.94 450.29,241.67 450.86,242.16C451.42,242.65 452.5,242.31 453.24,242.52C453.99,242.72 454.66,242.96 455.32,243.38C455.98,243.8 456.94,244.32 457.21,245.03C457.48,245.74 457.21,246.79 456.96,247.65C456.71,248.52 455.73,249.33 455.71,250.2C455.7,251.08 456.7,252.04 456.86,252.93C457.02,253.82 456.84,254.69 456.66,255.55C456.49,256.42 456.02,257.29 455.82,258.11C455.61,258.93 455.68,259.71 455.41,260.47C455.15,261.23 454.47,261.91 454.23,262.67C453.99,263.44 453.94,264.24 453.96,265.06C453.98,265.88 454.39,266.76 454.33,267.61C454.28,268.47 454.1,269.43 453.65,270.21C453.2,271 452.04,271.66 451.65,272.31C451.25,272.97 451.73,273.55 451.28,274.15C450.82,274.74 449.71,275.8 448.93,275.87C448.15,275.95 447.37,274.86 446.59,274.61C445.8,274.35 445.06,274.31 444.24,274.37C443.42,274.42 442.18,274.34 441.65,274.91C441.13,275.47 441.55,276.94 441.1,277.76C440.64,278.57 439.43,279.06 438.92,279.79C438.4,280.52 438.58,281.44 438.01,282.14C437.44,282.84 436.39,283.65 435.5,283.99C434.62,284.34 433.56,284.41 432.69,284.23C431.82,284.05 431.03,283.39 430.28,282.89C429.53,282.39 428.78,281.89 428.18,281.24C427.58,280.59 427.22,279.67 426.68,278.99C426.13,278.31 425.58,277.66 424.9,277.18C424.22,276.71 423.32,276.51 422.59,276.14C421.87,275.77 420.95,275.58 420.58,274.97C420.2,274.35 420.44,273.29 420.35,272.45C420.25,271.62 420.15,270.79 420,269.96C419.86,269.14 419.64,268.33 419.47,267.52C419.29,266.7 419.39,265.92 418.93,265.07C418.48,264.22 416.89,263.19 416.73,262.41Z" fill="#9ea4df" stroke="#9ea4df" stroke-width="1.6" stroke-linejoin="round" filter="url(#tx)"/>
<path d="M449.77,240.12C450.04,239.69 451.59,240.3 452.5,240.37C453.4,240.43 454.31,240.32 455.22,240.53C456.12,240.73 457.03,241.54 457.94,241.6C458.84,241.66 459.83,240.9 460.66,240.88C461.48,240.85 462.11,241.52 462.88,241.46C463.64,241.41 464.46,240.54 465.22,240.54C465.97,240.54 466.77,241.31 467.41,241.46C468.05,241.62 468.82,240.99 469.07,241.47C469.31,241.94 469.15,243.42 468.87,244.31C468.59,245.2 467.75,245.92 467.39,246.8C467.03,247.67 466.8,248.59 466.74,249.55C466.68,250.51 466.96,251.57 467.01,252.56C467.06,253.56 467.36,254.6 467.04,255.52C466.72,256.44 465.26,257.25 465.08,258.09C464.89,258.93 465.79,259.76 465.92,260.57C466.05,261.38 466.12,262.18 465.85,262.94C465.57,263.7 464.6,264.42 464.28,265.13C463.95,265.84 464.23,266.41 463.89,267.19C463.55,267.97 462.73,269.02 462.21,269.82C461.7,270.62 461.39,271.29 460.8,271.99C460.21,272.7 459.48,273.54 458.65,274.04C457.83,274.55 456.7,274.93 455.85,275.02C454.99,275.11 454.14,274.87 453.51,274.58C452.89,274.29 452.71,273.84 452.1,273.28C451.49,272.72 450.34,271.99 449.86,271.23C449.37,270.46 449.47,269.59 449.19,268.7C448.91,267.81 448.27,266.76 448.17,265.89C448.07,265.02 448.47,264.27 448.6,263.46C448.73,262.65 448.74,261.82 448.95,261.02C449.17,260.22 449.72,259.48 449.89,258.67C450.05,257.85 449.79,256.91 449.94,256.12C450.08,255.33 450.35,254.63 450.76,253.93C451.17,253.24 452.25,252.71 452.4,251.95C452.55,251.19 451.49,250.19 451.63,249.37C451.78,248.55 453.2,247.76 453.29,247.02C453.38,246.28 452.56,245.63 452.16,244.95C451.76,244.27 451.29,243.76 450.89,242.96C450.49,242.15 449.51,240.55 449.77,240.12Z" fill="#e8b4cf" stroke="#e8b4cf" stroke-width="1.6" stroke-linejoin="round" filter="url(#tx)"/>
<path d="M470.06,241.38C470.63,241.01 471.57,241.17 472.33,241.12C473.09,241.06 473.9,241.3 474.63,241.07C475.37,240.84 475.98,239.91 476.73,239.74C477.47,239.56 478.38,239.98 479.09,240.03C479.8,240.07 480.25,239.8 480.98,240.01C481.71,240.22 482.54,241.06 483.47,241.29C484.4,241.52 485.7,241.05 486.55,241.38C487.4,241.7 488.05,242.54 488.55,243.23C489.04,243.93 489.19,244.79 489.54,245.56C489.9,246.32 490.45,247.01 490.67,247.83C490.89,248.65 490.53,249.7 490.83,250.48C491.14,251.26 492.14,251.81 492.5,252.52C492.87,253.23 493.02,253.98 493.02,254.75C493.03,255.52 492.45,256.39 492.51,257.15C492.58,257.91 493.12,258.59 493.44,259.31C493.75,260.03 494.18,260.72 494.41,261.46C494.63,262.2 494.77,263.01 494.77,263.77C494.78,264.53 494.36,265.27 494.43,266.02C494.51,266.77 495.27,267.52 495.23,268.27C495.2,269.02 494.44,269.77 494.23,270.53C494.03,271.28 493.95,272.02 494,272.78C494.06,273.53 494.67,274.31 494.56,275.05C494.45,275.8 493.65,276.5 493.35,277.25C493.04,278 492.81,278.77 492.73,279.57C492.66,280.37 492.97,281.29 492.92,282.04C492.88,282.8 492.92,283.48 492.47,284.09C492.02,284.7 491.01,285.31 490.22,285.7C489.43,286.09 488.52,286.46 487.74,286.44C486.96,286.41 486.32,285.75 485.53,285.57C484.73,285.39 483.71,285.58 482.96,285.36C482.2,285.13 481.51,284.77 481.01,284.21C480.5,283.66 480.45,282.67 479.92,282.03C479.4,281.38 478.65,280.8 477.86,280.34C477.07,279.88 475.9,279.79 475.19,279.26C474.48,278.73 474.19,277.73 473.6,277.16C473.01,276.6 472.27,276.33 471.64,275.87C471,275.41 470.46,274.83 469.79,274.42C469.12,274.01 468.21,273.92 467.63,273.39C467.04,272.86 467.19,271.6 466.29,271.23C465.38,270.87 462.77,271.6 462.19,271.21C461.61,270.82 462.69,269.68 462.82,268.89C462.94,268.1 462.84,267.27 462.92,266.47C462.99,265.68 463.13,264.92 463.25,264.1C463.37,263.29 463.18,262.3 463.63,261.58C464.08,260.87 465.46,260.5 465.97,259.8C466.48,259.1 466.47,258.19 466.7,257.37C466.92,256.55 467.19,255.73 467.32,254.9C467.46,254.07 467.4,253.19 467.49,252.4C467.59,251.61 467.79,250.91 467.91,250.16C468.04,249.41 468.06,248.64 468.24,247.9C468.41,247.16 468.85,246.46 468.96,245.71C469.07,244.95 468.69,244.1 468.88,243.38C469.06,242.66 469.48,241.76 470.06,241.38Z" fill="#aeb3e8" stroke="#aeb3e8" stroke-width="1.6" stroke-linejoin="round" filter="url(#tx)"/>
<path d="M462.53,271.33C463.46,270.92 465.32,271.09 466.19,271.4C467.07,271.71 467.22,272.63 467.79,273.18C468.36,273.72 468.99,274.19 469.61,274.66C470.23,275.14 470.78,275.7 471.5,276.05C472.23,276.39 473.36,276.18 473.96,276.73C474.56,277.28 474.48,278.71 475.09,279.35C475.71,279.99 476.89,280.08 477.64,280.56C478.39,281.04 478.94,281.81 479.61,282.24C480.29,282.68 481.11,282.71 481.7,283.18C482.29,283.64 482.5,284.51 483.16,285.05C483.82,285.6 485.37,285.8 485.65,286.44C485.93,287.07 485.16,288.08 484.82,288.89C484.47,289.69 483.85,290.5 483.6,291.24C483.36,291.98 483.85,293.12 483.33,293.32C482.81,293.51 481.5,292.54 480.5,292.42C479.5,292.3 478.31,292.74 477.31,292.62C476.3,292.5 475.42,292.09 474.48,291.72C473.54,291.36 472.4,290.91 471.67,290.4C470.94,289.9 470.62,289.27 470.09,288.71C469.56,288.15 469.06,287.48 468.5,287.03C467.94,286.57 467.2,286.49 466.74,285.99C466.27,285.48 466.15,284.57 465.68,283.98C465.21,283.39 464.41,283.02 463.92,282.44C463.42,281.87 463.24,281.08 462.73,280.51C462.21,279.94 461.38,279.63 460.83,279.01C460.27,278.38 459.45,277.61 459.42,276.75C459.39,275.9 460.13,274.76 460.65,273.85C461.17,272.95 461.61,271.74 462.53,271.33Z" fill="#dfb78f" stroke="#dfb78f" stroke-width="1.6" stroke-linejoin="round" filter="url(#tx)"/>
<path d="M420.29,275.11C420.6,274.92 421.76,276.03 422.5,276.38C423.23,276.74 424.04,276.74 424.69,277.22C425.35,277.7 425.7,278.72 426.42,279.25C427.14,279.77 428.43,279.74 429.03,280.38C429.64,281.03 429.46,282.44 430.05,283.13C430.63,283.82 431.65,284.39 432.55,284.52C433.46,284.65 434.47,284.19 435.47,283.89C436.47,283.6 437.78,283.32 438.55,282.74C439.32,282.15 439.8,281.28 440.08,280.38C440.37,279.48 439.98,278.28 440.28,277.35C440.58,276.42 441.23,275.11 441.89,274.79C442.55,274.47 443.46,275.35 444.24,275.42C445.02,275.48 445.8,275.17 446.59,275.18C447.37,275.19 448.16,275.54 448.93,275.48C449.71,275.41 450.35,274.81 451.24,274.79C452.12,274.77 453.18,275.59 454.22,275.37C455.27,275.15 456.68,273.2 457.53,273.47C458.38,273.74 458.84,275.93 459.32,276.97C459.81,278.01 460.15,278.62 460.41,279.68C460.67,280.75 461.27,282.81 460.9,283.35C460.54,283.89 459,282.71 458.22,282.93C457.44,283.16 456.94,284.35 456.2,284.71C455.45,285.07 454.57,284.94 453.76,285.1C452.94,285.26 452.13,285.46 451.31,285.66C450.5,285.85 449.68,286.12 448.85,286.27C448.02,286.42 447.1,286.48 446.35,286.57C445.59,286.66 445.13,286.64 444.31,286.83C443.5,287.02 442.08,287.1 441.45,287.72C440.83,288.34 441.04,289.78 440.55,290.57C440.05,291.35 439.12,291.88 438.48,292.42C437.84,292.96 437.44,293.57 436.69,293.8C435.94,294.03 434.67,293.5 433.98,293.8C433.3,294.1 433.06,295.68 432.57,295.61C432.08,295.54 431.58,294.1 431.05,293.38C430.51,292.66 430.06,291.87 429.36,291.31C428.67,290.76 427.55,290.55 426.88,290.04C426.21,289.54 425.82,288.88 425.33,288.27C424.83,287.67 424.41,287.01 423.91,286.41C423.41,285.8 422.74,285.31 422.33,284.66C421.91,284.01 421.52,283.3 421.43,282.51C421.33,281.72 421.91,280.76 421.78,279.93C421.65,279.1 420.89,278.33 420.64,277.53C420.39,276.73 419.98,275.3 420.29,275.11Z" fill="#e5de6c" stroke="#e5de6c" stroke-width="1.6" stroke-linejoin="round" filter="url(#tx)"/>
<path d="M437.92,291.7C438.71,291.36 439.87,291.14 440.63,290.65C441.39,290.16 441.94,289.35 442.48,288.75C443.02,288.14 443.22,287.41 443.86,287.03C444.51,286.66 445.51,286.61 446.34,286.49C447.17,286.37 448.08,286.66 448.86,286.33C449.64,286 450.21,284.73 451.02,284.49C451.82,284.24 452.88,285.03 453.69,284.86C454.49,284.7 455.05,283.71 455.84,283.5C456.63,283.3 457.62,283.81 458.43,283.63C459.25,283.45 460.05,282.39 460.72,282.43C461.4,282.47 461.87,283.43 462.47,283.87C463.08,284.32 463.74,284.68 464.37,285.1C464.99,285.52 465.63,285.91 466.21,286.4C466.79,286.89 467.28,287.51 467.83,288.03C468.39,288.54 468.86,289.22 469.56,289.51C470.25,289.8 471.17,289.44 472,289.77C472.83,290.11 473.67,291.03 474.55,291.5C475.44,291.97 476.34,292.38 477.32,292.58C478.3,292.77 479.34,292.42 480.42,292.67C481.49,292.92 483.53,293.49 483.78,294.09C484.03,294.7 482.51,295.55 481.92,296.29C481.34,297.04 480.67,297.75 480.24,298.58C479.82,299.41 479.58,300.4 479.38,301.28C479.17,302.16 479.37,303.09 479.01,303.85C478.64,304.61 477.55,305.08 477.2,305.85C476.85,306.61 477.21,307.74 476.9,308.45C476.58,309.15 475.76,309.43 475.3,310.09C474.83,310.74 474.69,311.89 474.11,312.35C473.53,312.82 472.48,312.54 471.82,312.88C471.16,313.21 470.74,314.1 470.15,314.37C469.55,314.64 468.98,314.26 468.25,314.5C467.52,314.73 466.54,315.83 465.75,315.78C464.97,315.73 464.31,314.38 463.54,314.22C462.77,314.05 461.92,314.74 461.11,314.81C460.3,314.88 459.49,314.85 458.66,314.63C457.84,314.4 456.93,313.97 456.17,313.47C455.4,312.97 454.76,312.28 454.09,311.62C453.41,310.97 452.83,310.13 452.14,309.54C451.46,308.96 450.65,308.57 449.96,308.1C449.27,307.62 448.72,307.09 448.02,306.68C447.32,306.27 446.53,305.98 445.77,305.64C445.02,305.31 444.12,305.14 443.47,304.67C442.83,304.19 442.45,303.38 441.9,302.79C441.35,302.19 440.84,301.51 440.18,301.08C439.52,300.64 438.49,300.73 437.92,300.18C437.36,299.63 437.46,298.2 436.79,297.78C436.13,297.36 434.7,298.09 433.94,297.67C433.18,297.25 432.22,295.89 432.25,295.27C432.27,294.65 433.48,294.4 434.09,293.97C434.71,293.54 435.3,293.05 435.93,292.67C436.57,292.29 437.14,292.03 437.92,291.7Z" fill="#97cf8f" stroke="#97cf8f" stroke-width="1.6" stroke-linejoin="round" filter="url(#tx)"/>
</svg></body></html>
